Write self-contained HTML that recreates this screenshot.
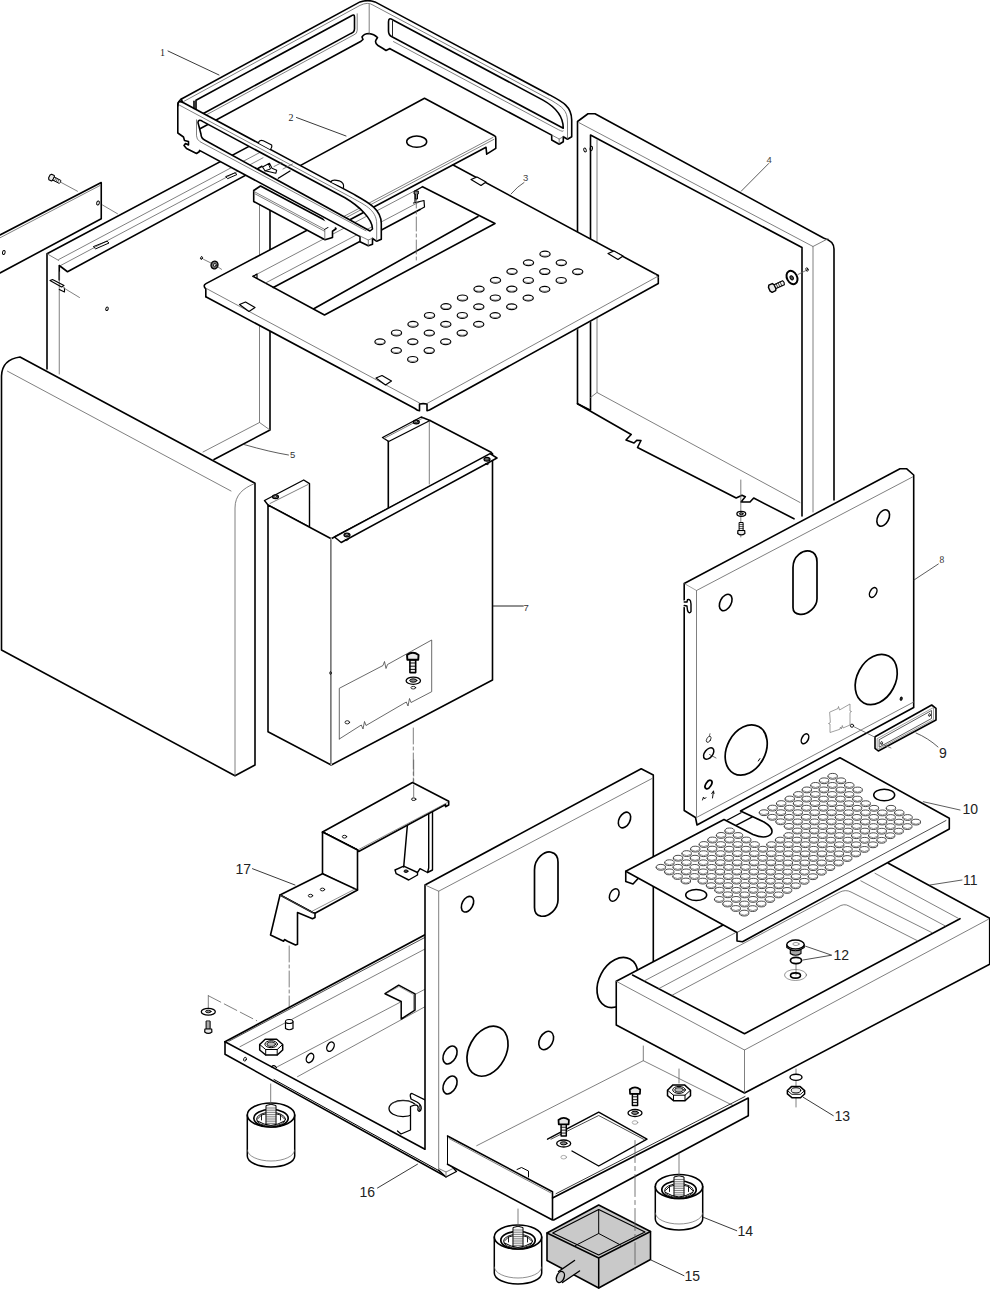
<!DOCTYPE html>
<html><head><meta charset="utf-8"><title>Exploded view</title>
<style>
html,body{margin:0;padding:0;background:#fff;}
body{width:990px;height:1304px;overflow:hidden;}
svg{display:block;}
path,ellipse{stroke-linejoin:round;stroke-linecap:round;}
</style></head><body>
<svg width="990" height="1304" viewBox="0 0 990 1304">
<rect x="0" y="0" width="990" height="1304" fill="#fff"/>
<path d="M 590,410 L 577.5,403.75 L 577.5,121.5 L 588,113.75 L 595,113.75 L 823.5,238 Q 834,241 834,249 L 834,500" fill="none" stroke="#000" stroke-width="1.6" />
<path d="M 578.7,122.5 L 813,246.5 L 813,512 M 813,246.5 L 828,238.7" fill="none" stroke="#606060" stroke-width="0.8" />
<path d="M 590.5,410 L 590.5,135 L 802,247.5 L 802,516" fill="none" stroke="#000" stroke-width="1.6" />
<path d="M 597,140 L 597,392.5 L 800,502.5 M 597,392.5 L 590.5,397.5" fill="none" stroke="#606060" stroke-width="0.8" />
<path d="M 577.5,403.75 L 631.2,434.5 L 626,440 L 634,443 L 637,440.2 L 641,440.5 L 637.5,447.5 L 736.2,498 L 742,495.3 L 745.3,496.8 L 741,502 L 750,502 L 753.7,498 L 794,518.8" fill="none" stroke="#000" stroke-width="1.6" />
<ellipse cx="585.0" cy="150.0" rx="1.2" ry="2.0" transform="rotate(-20 585.0 150.0)" fill="none" stroke="#000" stroke-width="1.0"/>
<ellipse cx="591.3" cy="148.5" rx="1.2" ry="2.2" transform="rotate(10 591.3 148.5)" fill="none" stroke="#000" stroke-width="1.0"/>
<g transform="translate(771.5 288.3) rotate(-25) scale(1.1)">
<path d="M -1,-3.6 L 2.5,-3.6 L 3.6,-1.8 L 3.6,1.8 L 2.5,3.6 L -1,3.6 L -2.2,1.8 L -2.2,-1.8 Z" fill="#e8e8e8" stroke="#000" stroke-width="1.3"/>
<path d="M 3.6,-2 L 12,-2 L 12.6,0 L 12,2 L 3.6,2 Z" fill="#f2f2f2" stroke="#000" stroke-width="1.0"/>
<path d="M 5.5,-2 L 5.5,2 M 7.5,-2 L 7.5,2 M 9.5,-2 L 9.5,2" stroke="#000" stroke-width="0.6" fill="none"/>
</g>
<ellipse cx="792.0" cy="277.5" rx="5.0" ry="7.0" transform="rotate(-28 792.0 277.5)" fill="#fff" stroke="#000" stroke-width="2.0"/>
<ellipse cx="791.7" cy="277.8" rx="1.5" ry="2.2" transform="rotate(-28 791.7 277.8)" fill="#555" stroke="#000" stroke-width="1.0"/>
<ellipse cx="807.0" cy="269.5" rx="1.0" ry="1.8" transform="rotate(-15 807.0 269.5)" fill="none" stroke="#000" stroke-width="0.9"/>
<path d="M 798,274.5 L 806,270.5" fill="none" stroke="#606060" stroke-width="0.8" />
<path d="M 740.8,480 L 740.8,537" fill="none" stroke="#606060" stroke-width="0.8" />
<ellipse cx="741.3" cy="513.8" rx="4.4" ry="2.5" transform="rotate(0 741.3 513.8)" fill="#fff" stroke="#000" stroke-width="1.3"/>
<ellipse cx="741.3" cy="513.8" rx="1.8" ry="1.1" transform="rotate(0 741.3 513.8)" fill="#888" stroke="#000" stroke-width="1.0"/>
<g transform="translate(741.3 533.5) scale(1.0 1.0)">
<path d="M -1.8,-11 L 1.8,-11 L 1.8,-3 L -1.8,-3 Z" fill="#f2f2f2" stroke="#000" stroke-width="1.0"/>
<path d="M -1.8,-9 L 1.8,-9 M -1.8,-7 L 1.8,-7 M -1.8,-5 L 1.8,-5" stroke="#000" stroke-width="0.6" fill="none"/>
<path d="M -3.4,-3 L 3.4,-3 L 3.6,0 Q 0,2.8 -3.6,0 Z" fill="#e8e8e8" stroke="#000" stroke-width="1.2"/>
</g>
<path d="M 47,369 L 47,253.75 L 256,142.6" fill="none" stroke="#000" stroke-width="1.6" />
<path d="M 270,205 L 270,430 L 214,459.5" fill="none" stroke="#000" stroke-width="1.6" />
<path d="M 58.75,259.5 L 263,150.8" fill="none" stroke="#606060" stroke-width="0.8" />
<path d="M 61,265.3 L 263,157.8" fill="none" stroke="#606060" stroke-width="0.8" />
<path d="M 59.25,265.5 L 59.25,280 M 59.25,265.5 L 67.5,271.75 L 262,166.3" fill="none" stroke="#000" stroke-width="1.6" />
<path d="M 47,253.75 L 58.75,260.5" fill="none" stroke="#606060" stroke-width="0.8" />
<path d="M 59.25,272 L 59.25,374" fill="none" stroke="#606060" stroke-width="0.8" />
<path d="M 259.5,205 L 259.5,422.5 L 203,452" fill="none" stroke="#606060" stroke-width="0.8" />
<path d="M 259.5,422.5 L 270,430" fill="none" stroke="#606060" stroke-width="0.8" />
<path d="M 50,280.5 L 52.5,279.5 L 64,285.5 L 61.5,287 Z M 59.25,289.5 L 64.5,292 L 64.5,288" fill="none" stroke="#000" stroke-width="1.1" />
<path d="M 63,287.5 L 79.5,297.5" fill="none" stroke="#606060" stroke-width="0.8" />
<path d="M 93.7,246.5 L 107,241.2 L 109,243 L 96,248.7 Z" fill="none" stroke="#000" stroke-width="1.0" />
<path d="M 226,176.5 L 235,172.8 L 237,174.5 L 228,178.5 Z" fill="none" stroke="#000" stroke-width="1.0" />
<ellipse cx="107.0" cy="308.8" rx="1.2" ry="1.8" transform="rotate(20 107.0 308.8)" fill="none" stroke="#000" stroke-width="1.0"/>
<path d="M 0,235 L 101.25,182.5 L 101.25,218.75 L 0,273" fill="#fff" stroke="#000" stroke-width="1.6" />
<path d="M 0,237.8 L 100,185.5" fill="none" stroke="#606060" stroke-width="0.8" />
<ellipse cx="98.0" cy="203.0" rx="1.3" ry="2.0" transform="rotate(15 98.0 203.0)" fill="none" stroke="#000" stroke-width="1.0"/>
<ellipse cx="3.8" cy="252.5" rx="1.3" ry="2.0" transform="rotate(15 3.8 252.5)" fill="none" stroke="#000" stroke-width="1.0"/>
<path d="M 61.25,182.5 L 77.5,191.25 M 102.5,205 L 117.5,213.75" fill="none" stroke="#606060" stroke-width="0.8" />
<g transform="translate(51.0 177.3) rotate(27) scale(0.85)">
<path d="M -1,-3.6 L 2.5,-3.6 L 3.6,-1.8 L 3.6,1.8 L 2.5,3.6 L -1,3.6 L -2.2,1.8 L -2.2,-1.8 Z" fill="#e8e8e8" stroke="#000" stroke-width="1.3"/>
<path d="M 3.6,-2 L 12,-2 L 12.6,0 L 12,2 L 3.6,2 Z" fill="#f2f2f2" stroke="#000" stroke-width="1.0"/>
<path d="M 5.5,-2 L 5.5,2 M 7.5,-2 L 7.5,2 M 9.5,-2 L 9.5,2" stroke="#000" stroke-width="0.6" fill="none"/>
</g>
<path d="M 204.3,284.5 L 442.0,159.0 L 658.3,275.5 L 658.3,275.5 L 658.3,284 L 430,412 L 419,412 L 205.8,296.7 Z" fill="#fff" stroke="none" stroke-width="0" />
<path d="M 205.8,296.7 L 205.8,289 Q 202.5,285.5 206,283.6 L 442,159 L 658.3,275.5" fill="none" stroke="#000" stroke-width="1.6" />
<path d="M 206,288.3 L 419.5,403" fill="none" stroke="#606060" stroke-width="0.8" />
<path d="M 205.8,296.7 L 414.5,408.3 L 417.5,410.2 L 419.5,410.7 L 419.5,404 Q 423,403.3 427,404 L 427,410.7 L 429.5,410 L 658.3,283.5 L 658.3,275.5" fill="none" stroke="#000" stroke-width="1.6" />
<path d="M 427,403.5 L 657.5,276.5" fill="none" stroke="#606060" stroke-width="0.8" />
<path d="M 655,274 L 658.3,277.5" fill="none" stroke="#606060" stroke-width="0.8" />
<path d="M 253.0,276.3 L 324.5,315.0 L 495.0,223.5 L 422.5,186.7" fill="none" stroke="#000" stroke-width="1.6" />
<path d="M 253.0,276.3 L 422.5,186.7" fill="none" stroke="#606060" stroke-width="0.8" />
<path d="M 265.5,283 L 420,201.5" fill="none" stroke="#606060" stroke-width="0.8" />
<path d="M 273.3,287.5 L 420,209.5" fill="none" stroke="#000" stroke-width="1.6" />
<path d="M 313.8,308.8 L 478,216.5" fill="none" stroke="#000" stroke-width="1.6" />
<path d="M 253,276.3 L 257,274 L 257,278.5" fill="none" stroke="#000" stroke-width="1.2" />
<path d="M 422.5,186.7 L 415,191 L 415,201.5 M 413.5,203 L 424,200.5 L 424.5,207 L 420,209.5" fill="none" stroke="#000" stroke-width="1.2" />
<path d="M 416.3,194 L 416.3,262" fill="none" stroke="#606060" stroke-width="0.8" stroke-dasharray="14 3 3 3"/>
<path d="M 414.5,191 L 418.3,191 L 418.3,194 L 417.5,194 L 417.5,199 L 415.3,199 L 415.3,194 L 414.5,194 Z" fill="#888" stroke="#000" stroke-width="1.0" />
<path d="M 239.5,304.5 l 6,-2.5 l 9.5,5.5 l -6,4 Z" fill="#fff" stroke="#000" stroke-width="1.2" />
<path d="M 376.0,378.0 l 6,-2.5 l 9.5,5.5 l -6,4 Z" fill="#fff" stroke="#000" stroke-width="1.2" />
<path d="M 471,179.5 l 6,-2.5 l 9,5 l -5,3.5 Z" fill="#fff" stroke="#000" stroke-width="1.2" />
<path d="M 608,253.5 l 6,-2.5 l 9,5 l -5,3.5 Z" fill="#fff" stroke="#000" stroke-width="1.2" />
<ellipse cx="545.0" cy="254.0" rx="5.1" ry="2.9" transform="rotate(0 545.0 254.0)" fill="#fff" stroke="#000" stroke-width="1.2"/>
<path d="M 540.5,254.6 q 4.5,3.2 9,0" fill="none" stroke="#606060" stroke-width="0.6" />
<ellipse cx="561.3" cy="262.8" rx="5.1" ry="2.9" transform="rotate(0 561.3 262.8)" fill="#fff" stroke="#000" stroke-width="1.2"/>
<path d="M 556.8,263.4 q 4.5,3.2 9,0" fill="none" stroke="#606060" stroke-width="0.6" />
<ellipse cx="577.7" cy="271.7" rx="5.1" ry="2.9" transform="rotate(0 577.7 271.7)" fill="#fff" stroke="#000" stroke-width="1.2"/>
<path d="M 573.2,272.3 q 4.5,3.2 9,0" fill="none" stroke="#606060" stroke-width="0.6" />
<ellipse cx="528.5" cy="262.8" rx="5.1" ry="2.9" transform="rotate(0 528.5 262.8)" fill="#fff" stroke="#000" stroke-width="1.2"/>
<path d="M 524.0,263.4 q 4.5,3.2 9,0" fill="none" stroke="#606060" stroke-width="0.6" />
<ellipse cx="544.8" cy="271.6" rx="5.1" ry="2.9" transform="rotate(0 544.8 271.6)" fill="#fff" stroke="#000" stroke-width="1.2"/>
<path d="M 540.3,272.2 q 4.5,3.2 9,0" fill="none" stroke="#606060" stroke-width="0.6" />
<ellipse cx="561.2" cy="280.4" rx="5.1" ry="2.9" transform="rotate(0 561.2 280.4)" fill="#fff" stroke="#000" stroke-width="1.2"/>
<path d="M 556.7,281.0 q 4.5,3.2 9,0" fill="none" stroke="#606060" stroke-width="0.6" />
<ellipse cx="512.0" cy="271.5" rx="5.1" ry="2.9" transform="rotate(0 512.0 271.5)" fill="#fff" stroke="#000" stroke-width="1.2"/>
<path d="M 507.5,272.1 q 4.5,3.2 9,0" fill="none" stroke="#606060" stroke-width="0.6" />
<ellipse cx="528.3" cy="280.4" rx="5.1" ry="2.9" transform="rotate(0 528.3 280.4)" fill="#fff" stroke="#000" stroke-width="1.2"/>
<path d="M 523.8,281.0 q 4.5,3.2 9,0" fill="none" stroke="#606060" stroke-width="0.6" />
<ellipse cx="544.7" cy="289.2" rx="5.1" ry="2.9" transform="rotate(0 544.7 289.2)" fill="#fff" stroke="#000" stroke-width="1.2"/>
<path d="M 540.2,289.8 q 4.5,3.2 9,0" fill="none" stroke="#606060" stroke-width="0.6" />
<ellipse cx="495.5" cy="280.3" rx="5.1" ry="2.9" transform="rotate(0 495.5 280.3)" fill="#fff" stroke="#000" stroke-width="1.2"/>
<path d="M 491.0,280.9 q 4.5,3.2 9,0" fill="none" stroke="#606060" stroke-width="0.6" />
<ellipse cx="511.8" cy="289.1" rx="5.1" ry="2.9" transform="rotate(0 511.8 289.1)" fill="#fff" stroke="#000" stroke-width="1.2"/>
<path d="M 507.3,289.7 q 4.5,3.2 9,0" fill="none" stroke="#606060" stroke-width="0.6" />
<ellipse cx="528.2" cy="298.0" rx="5.1" ry="2.9" transform="rotate(0 528.2 298.0)" fill="#fff" stroke="#000" stroke-width="1.2"/>
<path d="M 523.7,298.6 q 4.5,3.2 9,0" fill="none" stroke="#606060" stroke-width="0.6" />
<ellipse cx="479.0" cy="289.1" rx="5.1" ry="2.9" transform="rotate(0 479.0 289.1)" fill="#fff" stroke="#000" stroke-width="1.2"/>
<path d="M 474.5,289.7 q 4.5,3.2 9,0" fill="none" stroke="#606060" stroke-width="0.6" />
<ellipse cx="495.3" cy="297.9" rx="5.1" ry="2.9" transform="rotate(0 495.3 297.9)" fill="#fff" stroke="#000" stroke-width="1.2"/>
<path d="M 490.8,298.5 q 4.5,3.2 9,0" fill="none" stroke="#606060" stroke-width="0.6" />
<ellipse cx="511.7" cy="306.7" rx="5.1" ry="2.9" transform="rotate(0 511.7 306.7)" fill="#fff" stroke="#000" stroke-width="1.2"/>
<path d="M 507.2,307.3 q 4.5,3.2 9,0" fill="none" stroke="#606060" stroke-width="0.6" />
<ellipse cx="462.5" cy="297.9" rx="5.1" ry="2.9" transform="rotate(0 462.5 297.9)" fill="#fff" stroke="#000" stroke-width="1.2"/>
<path d="M 458.0,298.5 q 4.5,3.2 9,0" fill="none" stroke="#606060" stroke-width="0.6" />
<ellipse cx="478.8" cy="306.7" rx="5.1" ry="2.9" transform="rotate(0 478.8 306.7)" fill="#fff" stroke="#000" stroke-width="1.2"/>
<path d="M 474.3,307.3 q 4.5,3.2 9,0" fill="none" stroke="#606060" stroke-width="0.6" />
<ellipse cx="495.2" cy="315.5" rx="5.1" ry="2.9" transform="rotate(0 495.2 315.5)" fill="#fff" stroke="#000" stroke-width="1.2"/>
<path d="M 490.7,316.1 q 4.5,3.2 9,0" fill="none" stroke="#606060" stroke-width="0.6" />
<ellipse cx="446.0" cy="306.6" rx="5.1" ry="2.9" transform="rotate(0 446.0 306.6)" fill="#fff" stroke="#000" stroke-width="1.2"/>
<path d="M 441.5,307.2 q 4.5,3.2 9,0" fill="none" stroke="#606060" stroke-width="0.6" />
<ellipse cx="462.3" cy="315.4" rx="5.1" ry="2.9" transform="rotate(0 462.3 315.4)" fill="#fff" stroke="#000" stroke-width="1.2"/>
<path d="M 457.8,316.1 q 4.5,3.2 9,0" fill="none" stroke="#606060" stroke-width="0.6" />
<ellipse cx="478.7" cy="324.3" rx="5.1" ry="2.9" transform="rotate(0 478.7 324.3)" fill="#fff" stroke="#000" stroke-width="1.2"/>
<path d="M 474.2,324.9 q 4.5,3.2 9,0" fill="none" stroke="#606060" stroke-width="0.6" />
<ellipse cx="429.5" cy="315.4" rx="5.1" ry="2.9" transform="rotate(0 429.5 315.4)" fill="#fff" stroke="#000" stroke-width="1.2"/>
<path d="M 425.0,316.0 q 4.5,3.2 9,0" fill="none" stroke="#606060" stroke-width="0.6" />
<ellipse cx="445.8" cy="324.2" rx="5.1" ry="2.9" transform="rotate(0 445.8 324.2)" fill="#fff" stroke="#000" stroke-width="1.2"/>
<path d="M 441.3,324.8 q 4.5,3.2 9,0" fill="none" stroke="#606060" stroke-width="0.6" />
<ellipse cx="462.2" cy="333.1" rx="5.1" ry="2.9" transform="rotate(0 462.2 333.1)" fill="#fff" stroke="#000" stroke-width="1.2"/>
<path d="M 457.7,333.7 q 4.5,3.2 9,0" fill="none" stroke="#606060" stroke-width="0.6" />
<ellipse cx="413.0" cy="324.2" rx="5.1" ry="2.9" transform="rotate(0 413.0 324.2)" fill="#fff" stroke="#000" stroke-width="1.2"/>
<path d="M 408.5,324.8 q 4.5,3.2 9,0" fill="none" stroke="#606060" stroke-width="0.6" />
<ellipse cx="429.3" cy="333.0" rx="5.1" ry="2.9" transform="rotate(0 429.3 333.0)" fill="#fff" stroke="#000" stroke-width="1.2"/>
<path d="M 424.8,333.6 q 4.5,3.2 9,0" fill="none" stroke="#606060" stroke-width="0.6" />
<ellipse cx="445.7" cy="341.8" rx="5.1" ry="2.9" transform="rotate(0 445.7 341.8)" fill="#fff" stroke="#000" stroke-width="1.2"/>
<path d="M 441.2,342.4 q 4.5,3.2 9,0" fill="none" stroke="#606060" stroke-width="0.6" />
<ellipse cx="396.5" cy="332.9" rx="5.1" ry="2.9" transform="rotate(0 396.5 332.9)" fill="#fff" stroke="#000" stroke-width="1.2"/>
<path d="M 392.0,333.5 q 4.5,3.2 9,0" fill="none" stroke="#606060" stroke-width="0.6" />
<ellipse cx="412.8" cy="341.8" rx="5.1" ry="2.9" transform="rotate(0 412.8 341.8)" fill="#fff" stroke="#000" stroke-width="1.2"/>
<path d="M 408.3,342.4 q 4.5,3.2 9,0" fill="none" stroke="#606060" stroke-width="0.6" />
<ellipse cx="429.2" cy="350.6" rx="5.1" ry="2.9" transform="rotate(0 429.2 350.6)" fill="#fff" stroke="#000" stroke-width="1.2"/>
<path d="M 424.7,351.2 q 4.5,3.2 9,0" fill="none" stroke="#606060" stroke-width="0.6" />
<ellipse cx="380.0" cy="341.7" rx="5.1" ry="2.9" transform="rotate(0 380.0 341.7)" fill="#fff" stroke="#000" stroke-width="1.2"/>
<path d="M 375.5,342.3 q 4.5,3.2 9,0" fill="none" stroke="#606060" stroke-width="0.6" />
<ellipse cx="396.3" cy="350.5" rx="5.1" ry="2.9" transform="rotate(0 396.3 350.5)" fill="#fff" stroke="#000" stroke-width="1.2"/>
<path d="M 391.8,351.1 q 4.5,3.2 9,0" fill="none" stroke="#606060" stroke-width="0.6" />
<ellipse cx="412.7" cy="359.4" rx="5.1" ry="2.9" transform="rotate(0 412.7 359.4)" fill="#fff" stroke="#000" stroke-width="1.2"/>
<path d="M 408.2,360.0 q 4.5,3.2 9,0" fill="none" stroke="#606060" stroke-width="0.6" />
<path d="M 253.7,190.5 L 260.5,186 L 333,224.5 L 336,228.75 L 332.5,231.25 L 332.5,237.5 L 325,239.7 L 253.7,201.5 Z" fill="#fff" stroke="#000" stroke-width="1.6" />
<path d="M 254,191.5 L 324.5,229.3 M 255,193.8 L 324.5,231.2" fill="none" stroke="#606060" stroke-width="0.8" />
<path d="M 324.5,229.5 L 333,224.5" fill="none" stroke="#000" stroke-width="1.0" />
<path d="M 324.8,230 L 324.8,239.5" fill="none" stroke="#606060" stroke-width="0.8" />
<path d="M 424.5,98.3 L 494.5,135.8 L 495.8,137.5 L 495.8,148.3 L 486.7,154.2 L 485,147 L 330,230.3 L 296,167.9 Z" fill="#fff" stroke="none" stroke-width="0" />
<path d="M 296,167.9 L 424.5,98.3 L 494.5,135.8 Q 496,136.5 495.8,138.5 L 495.8,148.3 L 486.7,154.2 L 486,147.2 L 340,225.0" fill="none" stroke="#000" stroke-width="1.6" />
<path d="M 493,137.4 L 340,218.5" fill="none" stroke="#606060" stroke-width="0.8" />
<path d="M 494,139.3 L 340,220.9" fill="none" stroke="#606060" stroke-width="0.8" />
<ellipse cx="416.7" cy="141.7" rx="10.0" ry="5.6" transform="rotate(0 416.7 141.7)" fill="none" stroke="#000" stroke-width="1.5"/>
<path d="M 181,99.2 L 360,1.9 Q 368,-0.6 375,1.9 L 548.3,94.2 C 562,101.5 571.7,106 571.7,120 L 571.7,136.7 L 567.5,139.2 L 563.3,136.7 L 563.3,141.7 L 559.2,144.2 L 551.7,140 L 551.7,135.1 L 390,48.7 L 390,48.5 L 386,50.5 L 383,48.5 L 378,45.5 Q 374.5,43 376,40 L 377.5,37.5 Q 374,34 369,33.5 Q 364,33.5 362,37 L 363,39.5 L 361,41.2 L 200,128.8 L 190,115 Z M 196,100.3 L 351.5,15.7 Q 354.5,13.6 354.5,17.3 L 354.5,28.8 Q 354.5,32.3 351,33.4 L 196,117.5 Z M 388.5,21.9 Q 388.5,17.1 392.5,19.7 L 543,100.1 C 555,106.8 563.3,115.3 563.3,128.3 L 392.0,36.8 Q 388.5,34.9 388.5,30.9 Z" fill="#fff" stroke="#000" stroke-width="1.6" fill-rule="evenodd"/>
<path d="M 184,101.3 L 360,5.4 Q 368,1.5 373,5.1 L 552,100.7 C 562,107.1 567.5,110 567.5,122 L 567.5,139" fill="none" stroke="#606060" stroke-width="0.8" />
<path d="M 357.2,13.8 L 357.2,30.3 Q 357.2,33.8 354,34.8 L 207,114.5" fill="none" stroke="#606060" stroke-width="0.8" />
<path d="M 369.2,4.5 L 369.2,33.5" fill="none" stroke="#606060" stroke-width="0.8" />
<path d="M 392.5,21.0 L 392.5,36.0" fill="none" stroke="#222" stroke-width="1.0" />
<path d="M 393.5,41.6 L 556,128.4 C 560,130.5 563.3,132.3 563.3,131" fill="none" stroke="#606060" stroke-width="0.8" />
<path d="M 559.2,144.2 L 559.2,139 L 551.7,135 M 559.2,139 L 563.3,136.7" fill="none" stroke="#606060" stroke-width="0.8" />
<path d="M 177.8,133 L 177.8,104 Q 177.8,100 183.5,102.8 L 351.7,193.1 C 366,201.3 381.3,208 381.3,223.3 L 381.3,239.2 L 376.7,241.3 L 372.5,238.3 L 372.5,244.2 L 368.3,245.8 L 360,241.7 L 360,236.6 L 199.5,150.4 L 199.5,151.5 L 196.5,153.5 L 186.5,148.5 L 184,145.5 L 185.5,143.5 L 188.5,145 L 188.5,141.5 L 184.5,140.5 L 183.5,137 Z M 198.0,122.6 Q 198.0,118.6 203.0,121.6 L 345,197.8 C 358,205.5 372.5,218.3 372.5,229 L 370,231 L 205.0,140.3 Q 201.0,138.2 201.0,134.2 Z" fill="#fff" stroke="#000" stroke-width="1.6" fill-rule="evenodd"/>
<path d="M 179,104.9 L 350,196.7 C 363,204.2 376.7,209 376.7,224 L 376.7,241" fill="none" stroke="#606060" stroke-width="0.8" />
<path d="M 196.5,119.8 L 196.5,135.8 Q 196.5,139.3 200,141.7 L 366,230.8" fill="none" stroke="#606060" stroke-width="0.8" />
<path d="M 368.3,245.8 L 368.3,240 L 360,236 M 368.3,240 L 372.5,238.3" fill="none" stroke="#606060" stroke-width="0.8" />
<path d="M 194,101.4 L 194,108.4" fill="none" stroke="#000" stroke-width="1.6" />
<path d="M 177.8,106 Q 177.8,100.8 182,98.6" fill="none" stroke="#000" stroke-width="1.6" />
<path d="M 258.5,143 Q 259,139.5 263.3,140.8 L 271.7,145 Q 272.5,147 270.5,149.5" fill="#fff" stroke="#000" stroke-width="1.2" />
<path d="M 331,182 Q 332,179 339.2,180.8 Q 344.5,183 343.5,187.5" fill="#fff" stroke="#000" stroke-width="1.2" />
<path d="M 262.5,167 L 269.5,163.3 L 272,168.3 L 276.7,170.2 L 275.8,173.3 L 265,170.8 Z" fill="#fff" stroke="#000" stroke-width="1.1" />
<path d="M 268.5,164 L 270.5,169 L 265,170.8" fill="none" stroke="#000" stroke-width="1.0" />
<path d="M 278.3,178.3 L 290,171" fill="none" stroke="#000" stroke-width="1.3" />
<path d="M 283,169 L 292.5,164 M 274,166.5 L 282,162.5" fill="none" stroke="#606060" stroke-width="0.8" />
<g transform="translate(214.5 265.0) scale(1.0)">
<ellipse cx="0" cy="0" rx="3.4" ry="3.8" fill="#777" stroke="#000" stroke-width="1.4" transform="rotate(20)"/>
<ellipse cx="0.3" cy="0" rx="1.3" ry="1.7" fill="#ddd" stroke="#000" stroke-width="0.7" transform="rotate(20)"/>
</g>
<ellipse cx="201.5" cy="258.0" rx="0.9" ry="1.5" transform="rotate(20 201.5 258.0)" fill="none" stroke="#000" stroke-width="0.9"/>
<path d="M 203.5,259.3 L 211,263 M 218,267 L 221.5,269.3" fill="none" stroke="#606060" stroke-width="0.8" />
<path d="M 382.5,437.5 L 421.2,417 L 430,420.5 L 388.7,441.5 Z" fill="#fff" stroke="#000" stroke-width="1.4" />
<path d="M 384,438.5 L 423,418" fill="none" stroke="#606060" stroke-width="0.8" />
<path d="M 388.3,441.5 L 388.3,508" fill="none" stroke="#000" stroke-width="1.6" />
<path d="M 429.3,421 L 429.3,484" fill="none" stroke="#606060" stroke-width="0.8" />
<path d="M 430,420.5 L 491.5,452.5" fill="none" stroke="#000" stroke-width="1.6" />
<ellipse cx="416.3" cy="422.0" rx="3.0" ry="1.9" transform="rotate(0 416.3 422.0)" fill="#777" stroke="#000" stroke-width="1.2"/>
<ellipse cx="416.3" cy="421.7" rx="1.5" ry="0.9" transform="rotate(0 416.3 421.7)" fill="#ccc" stroke="#000" stroke-width="0.6"/>
<path d="M 264.5,500.5 L 303.7,480 L 309.5,483.7 L 309.5,527 L 268,505 Z" fill="#fff" stroke="#000" stroke-width="1.4" />
<path d="M 270,503.5 L 308,484.5" fill="none" stroke="#606060" stroke-width="0.8" />
<ellipse cx="275.5" cy="496.7" rx="3.0" ry="1.9" transform="rotate(0 275.5 496.7)" fill="#777" stroke="#000" stroke-width="1.2"/>
<ellipse cx="275.5" cy="496.4" rx="1.5" ry="0.9" transform="rotate(0 275.5 496.4)" fill="#ccc" stroke="#000" stroke-width="0.6"/>
<path d="M 268,505 L 331.2,538.7 L 331.2,765 L 268,731.7 Z" fill="#fff" stroke="#000" stroke-width="1.6" />
<path d="M 331.2,538.7 L 492.5,453.5 L 492.5,680 L 331.2,765 Z" fill="#fff" stroke="#000" stroke-width="1.6" />
<path d="M 331.2,538.7 L 331.2,765" fill="none" stroke="#fff" stroke-width="1.2" />
<path d="M 331.2,540 L 331.2,764" fill="none" stroke="#777" stroke-width="0.7" />
<path d="M 334.5,537 L 490,453.7 L 497,458 L 341.2,542.5 Z" fill="#fff" stroke="#000" stroke-width="1.5" />
<ellipse cx="347.0" cy="535.0" rx="3.0" ry="1.9" transform="rotate(0 347.0 535.0)" fill="#777" stroke="#000" stroke-width="1.2"/>
<ellipse cx="347.0" cy="534.7" rx="1.5" ry="0.9" transform="rotate(0 347.0 534.7)" fill="#ccc" stroke="#000" stroke-width="0.6"/>
<ellipse cx="487.0" cy="459.3" rx="3.0" ry="1.9" transform="rotate(0 487.0 459.3)" fill="#777" stroke="#000" stroke-width="1.2"/>
<ellipse cx="487.0" cy="459.0" rx="1.5" ry="0.9" transform="rotate(0 487.0 459.0)" fill="#ccc" stroke="#000" stroke-width="0.6"/>
<path d="M 345,539.5 q 1.5,2.5 3.5,0 M 485.5,463.7 q 1.5,2.5 3.5,0" fill="none" stroke="#000" stroke-width="1.0" />
<path d="M 339.3,739 L 339.3,688.3 L 383,665.5 l 1.5,-4 l 1.5,7 l 1.5,-4 L 431.7,640 L 431.7,691.7 L 411,702.5 l -1.5,-4 l -1.5,7.5 l -1.7,-4 L 366,725.5 l -1.5,-4 l -1.5,7.5 l -1.7,-4 L 339.3,739" fill="none" stroke="#444" stroke-width="0.8" />
<ellipse cx="347.3" cy="722.3" rx="2.3" ry="1.6" transform="rotate(0 347.3 722.3)" fill="none" stroke="#000" stroke-width="0.8"/>
<ellipse cx="330.5" cy="673.0" rx="0.8" ry="1.5" transform="rotate(0 330.5 673.0)" fill="none" stroke="#000" stroke-width="0.7"/>
<g transform="translate(412.8 655.0) scale(1.6 -1.6)">
<path d="M -1.8,-11 L 1.8,-11 L 1.8,-3 L -1.8,-3 Z" fill="#f2f2f2" stroke="#000" stroke-width="1.0"/>
<path d="M -1.8,-9 L 1.8,-9 M -1.8,-7 L 1.8,-7 M -1.8,-5 L 1.8,-5" stroke="#000" stroke-width="0.6" fill="none"/>
<path d="M -3.4,-3 L 3.4,-3 L 3.6,0 Q 0,2.8 -3.6,0 Z" fill="#e8e8e8" stroke="#000" stroke-width="1.2"/>
</g>
<ellipse cx="413.3" cy="680.7" rx="7.2" ry="3.6" transform="rotate(0 413.3 680.7)" fill="#fff" stroke="#000" stroke-width="1.3"/>
<ellipse cx="413.3" cy="680.5" rx="3.6" ry="1.7" transform="rotate(0 413.3 680.5)" fill="#888" stroke="#000" stroke-width="1.0"/>
<ellipse cx="413.3" cy="687.7" rx="2.4" ry="1.3" transform="rotate(0 413.3 687.7)" fill="none" stroke="#000" stroke-width="0.8"/>
<path d="M 413.3,728 L 413.3,797" fill="none" stroke="#606060" stroke-width="0.8" stroke-dasharray="16 3 3 3"/>
<path d="M 493.3,606 L 523.3,606" fill="none" stroke="#222" stroke-width="1.0" />
<path d="M 1.5,650 L 1.5,376 Q 2,359.5 20,357 L 255,483.3 L 255,765 L 235,775.7 Z" fill="#fff" stroke="#000" stroke-width="1.6" />
<path d="M 7.5,371.2 L 231,491 M 235,775.7 L 235,508 C 235,495 243,488.5 253.5,484" fill="none" stroke="#606060" stroke-width="0.8" />
<path d="M 684.2,810.5 L 684.2,583.5 L 900,468.7 L 906.5,468.7 L 913.7,475 L 913.7,707.5 L 697,825 L 695.5,817.5 Z" fill="#fff" stroke="#000" stroke-width="1.6" />
<path d="M 696.5,816.5 L 696.5,590.5 L 912.5,477" fill="none" stroke="#606060" stroke-width="0.8" />
<path d="M 696.5,590.5 L 684.2,583.5" fill="none" stroke="#606060" stroke-width="0.6" />
<path d="M 913.7,702 L 696.5,817.5" fill="none" stroke="#606060" stroke-width="0.8" />
<path d="M 684.2,601.5 L 684.2,606" fill="none" stroke="#fff" stroke-width="2.4" />
<path d="M 684.2,602 L 687,602 L 687.5,599.7 Q 689.5,598.8 690.5,601 L 691,604 L 691,611.5 Q 690,613.5 688.5,612.3 Q 687.2,610.5 687.2,608 L 687,606 L 684.2,605.5" fill="#fff" stroke="#000" stroke-width="1.4" />
<ellipse cx="883.2" cy="518.0" rx="5.5" ry="8.8" transform="rotate(28 883.2 518.0)" fill="none" stroke="#000" stroke-width="1.6"/>
<ellipse cx="725.7" cy="602.5" rx="5.5" ry="8.8" transform="rotate(28 725.7 602.5)" fill="none" stroke="#000" stroke-width="1.6"/>
<ellipse cx="873.2" cy="592.5" rx="3.2" ry="5.3" transform="rotate(28 873.2 592.5)" fill="none" stroke="#000" stroke-width="1.5"/>
<ellipse cx="805.0" cy="738.8" rx="3.2" ry="5.3" transform="rotate(28 805.0 738.8)" fill="none" stroke="#000" stroke-width="1.5"/>
<ellipse cx="876.2" cy="679.5" rx="19.2" ry="26.5" transform="rotate(28 876.2 679.5)" fill="none" stroke="#000" stroke-width="1.7"/>
<ellipse cx="746.2" cy="750.0" rx="19.2" ry="26.5" transform="rotate(28 746.2 750.0)" fill="none" stroke="#000" stroke-width="1.7"/>
<path d="M 758.3,761 l 1.6,-2.4" fill="none" stroke="#000" stroke-width="1.0" />
<path d="M 793,607.5 L 793,567.5 C 793,556 803,549.5 810,551.2 C 815,552.5 817,556 817,562 L 817,598.7 C 817,607 808,615 800,614.3 C 795,613.8 793,611 793,607.5 Z" fill="none" stroke="#000" stroke-width="1.7" />
<ellipse cx="901.2" cy="698.7" rx="1.0" ry="1.6" transform="rotate(20 901.2 698.7)" fill="#333" stroke="#000" stroke-width="1.0"/>
<ellipse cx="852.0" cy="725.7" rx="1.6" ry="1.6" transform="rotate(0 852.0 725.7)" fill="none" stroke="#000" stroke-width="0.9"/>
<path d="M 830,712 L 838,708.5 l 0.5,-2 l 1,3.5 L 850,704 L 850,711 l 1.5,0.5 l -1.5,1 L 850,725 L 843,728 l -0.7,-2.5 l -1,3.5 l -0.8,-2 l -0.7,2.3 L 830,732.5 L 830,724 l -1.5,-0.5 l 1.5,-0.8 Z" fill="none" stroke="#777" stroke-width="0.7" />
<ellipse cx="708.7" cy="739.3" rx="1.9" ry="3.4" transform="rotate(30 708.7 739.3)" fill="none" stroke="#000" stroke-width="0.7"/>
<path d="M 709.5,735.5 l 0.5,-1.8" fill="none" stroke="#222" stroke-width="0.7" />
<ellipse cx="708.7" cy="753.5" rx="4.0" ry="6.6" transform="rotate(38 708.7 753.5)" fill="none" stroke="#000" stroke-width="1.5"/>
<path d="M 709.5,754.5 L 716,758" fill="none" stroke="#222" stroke-width="0.7" />
<ellipse cx="708.5" cy="784.5" rx="2.6" ry="4.8" transform="rotate(32 708.5 784.5)" fill="none" stroke="#000" stroke-width="1.8"/>
<path d="M 702.5,800 l 1,-3 l 1,2 l 1.5,-1.5 M 712.5,798 l 1,-7 m -1.8,2.5 l 1.8,-2.5 l 0.5,2.5" fill="none" stroke="#111" stroke-width="1.0" />
<path d="M 428.7,810 L 428.7,868 L 427.5,872.5 L 432.5,870 L 432.5,806" fill="#fff" stroke="#000" stroke-width="1.4" />
<path d="M 407.5,823.7 L 403.7,867" fill="none" stroke="#000" stroke-width="1.5" />
<path d="M 395,870 L 403.7,866.2 L 417.5,872.5 L 420,868.7 L 427.5,872.5 M 395,870 L 396.2,873.7 L 408.7,880 L 417.5,875 L 417.5,872.5" fill="none" stroke="#000" stroke-width="1.4" />
<ellipse cx="406.0" cy="871.2" rx="2.0" ry="1.3" transform="rotate(0 406.0 871.2)" fill="#444" stroke="#000" stroke-width="0.9"/>
<path d="M 322.5,832 L 412.5,782.5 L 448.7,801.2 L 448.7,805 L 445.5,806.7 L 445.5,804.5 L 358.7,851.5 L 357.5,850 Z" fill="#fff" stroke="#000" stroke-width="1.6" />
<path d="M 358.7,849.5 L 447.5,802.5" fill="none" stroke="#606060" stroke-width="0.7" />
<path d="M 322.5,832 L 357.5,850" fill="none" stroke="#000" stroke-width="1.6" />
<path d="M 322.5,832 L 322.5,873.7 L 355,890 L 357.5,890 L 357.5,850 Z" fill="#fff" stroke="#000" stroke-width="1.6" />
<path d="M 322.5,873.7 L 356,890.7" fill="none" stroke="#606060" stroke-width="0.7" />
<path d="M 280,895 L 322.5,873.7 L 357.5,890 L 314.5,913.5 L 312.5,912.5 Z" fill="#fff" stroke="#000" stroke-width="1.6" />
<path d="M 312.5,911 L 356,888.5" fill="none" stroke="#606060" stroke-width="0.7" />
<path d="M 280,895 L 270.5,935 L 283.7,941.2 L 284.5,939.5 L 287.5,941.2 L 295.5,945 L 297.5,944.2 L 297.5,912.5 L 312.5,918.7 L 315,917.5 L 315,913.2 L 312.5,912.5 Z" fill="#fff" stroke="#000" stroke-width="1.6" />
<path d="M 280,895 L 312.5,912.5" fill="none" stroke="#606060" stroke-width="0.7" />
<ellipse cx="344.5" cy="836.7" rx="2.2" ry="1.4" transform="rotate(0 344.5 836.7)" fill="none" stroke="#000" stroke-width="0.9"/>
<ellipse cx="322.5" cy="889.5" rx="2.2" ry="1.4" transform="rotate(0 322.5 889.5)" fill="none" stroke="#000" stroke-width="0.9"/>
<ellipse cx="310.5" cy="895.7" rx="2.2" ry="1.4" transform="rotate(0 310.5 895.7)" fill="none" stroke="#000" stroke-width="0.9"/>
<ellipse cx="413.7" cy="799.2" rx="2.2" ry="1.3" transform="rotate(0 413.7 799.2)" fill="none" stroke="#000" stroke-width="0.9"/>
<path d="M 413.7,760 L 413.7,797" fill="none" stroke="#606060" stroke-width="0.8" stroke-dasharray="16 3 3 3"/>
<path d="M 289.2,946 L 289.2,1018" fill="none" stroke="#606060" stroke-width="0.8" stroke-dasharray="16 3 3 3"/>
<path d="M 252.5,868.7 L 295,885" fill="none" stroke="#222" stroke-width="0.9" />
<path d="M 225,1041.75 L 425,934.8 L 425,1149.25 L 446.2,1176.7 L 225,1054.25 Z" fill="#fff" stroke="none" stroke-width="0" />
<path d="M 225,1041.75 L 425,934.8" fill="none" stroke="#000" stroke-width="1.7" />
<path d="M 229,1041.2 L 425,937.4" fill="none" stroke="#222" stroke-width="0.8" />
<path d="M 240,1046.7 L 425,949" fill="none" stroke="#606060" stroke-width="0.8" />
<path d="M 277.5,1066.7 L 425,989.2" fill="none" stroke="#606060" stroke-width="0.8" />
<path d="M 297.5,1076.7 L 425,1006.7" fill="none" stroke="#606060" stroke-width="0.8" />
<path d="M 225,1041.75 L 225,1054.25 L 446.2,1176.7" fill="none" stroke="#000" stroke-width="1.6" />
<path d="M 225,1041.75 L 425,1149.25" fill="none" stroke="#000" stroke-width="1.6" />
<path d="M 274,1079.5 L 446.2,1174.7" fill="none" stroke="#000" stroke-width="1.0" />
<path d="M 271.5,1066.8 q 2.5,-2.8 5,0.8" fill="none" stroke="#000" stroke-width="1.2" />
<ellipse cx="245.0" cy="1059.2" rx="1.3" ry="2.0" transform="rotate(20 245.0 1059.2)" fill="none" stroke="#000" stroke-width="0.9"/>
<ellipse cx="310.0" cy="1058.0" rx="3.3" ry="5.0" transform="rotate(28 310.0 1058.0)" fill="none" stroke="#000" stroke-width="1.4"/>
<ellipse cx="330.5" cy="1046.7" rx="3.3" ry="5.0" transform="rotate(28 330.5 1046.7)" fill="none" stroke="#000" stroke-width="1.4"/>
<path d="M 385,993.7 L 398.7,985.2 L 415,993.9 L 415,1010.2 L 401.2,1019 L 401.2,1001.5 Z" fill="#fff" stroke="#000" stroke-width="1.5" />
<path d="M 387,993 L 399,986.5 L 413.5,994.5 L 413.5,1009.5" fill="none" stroke="#606060" stroke-width="0.6" />
<ellipse cx="403.0" cy="1108.5" rx="14.0" ry="8.2" transform="rotate(0 403.0 1108.5)" fill="none" stroke="#000" stroke-width="1.3"/>
<path d="M 391,1104 Q 400,1099 412,1101.5" fill="none" stroke="#606060" stroke-width="0.6" />
<path d="M 410.5,1104 L 426,1104 L 426,1143 L 410.5,1131 Z" fill="#fff" stroke="none" stroke-width="0" />
<path d="M 426,1100.3 L 412,1093.5 Q 410,1093.5 410.3,1096 L 411,1099 L 417,1102 Q 421.5,1104.5 421.2,1108.5 Q 420.5,1112 418.5,1111 Q 417.3,1110 418.2,1107.5 Q 418.3,1105 415,1104.8 L 410.5,1106.5 L 410.5,1130 L 401,1134 L 397.5,1131" fill="#fff" stroke="#000" stroke-width="1.3" />
<path d="M 419.5,1104.5 Q 420.5,1108 419.3,1110.5" fill="none" stroke="#000" stroke-width="0.8" />
<g transform="translate(271.2 1046.0) scale(1.0)">
<path d="M -11.5,-1.5 L -6,-6.8 L 5.5,-6.8 L 11.5,-1.5 L 11.5,4 L 6,9 L -5.5,9 L -11.5,4 Z" fill="#fff" stroke="#000" stroke-width="1.5"/>
<path d="M -11.5,-1.5 L -5.5,3.5 L 6,3.5 L 11.5,-1.5 M -5.5,3.5 L -5.5,9 M 6,3.5 L 6,9" fill="none" stroke="#000" stroke-width="1.0"/>
<ellipse cx="0" cy="-1.8" rx="6.3" ry="3.5" fill="#fff" stroke="#000" stroke-width="1.0"/>
<ellipse cx="0" cy="-1.8" rx="4.2" ry="2.2" fill="#bbb" stroke="#000" stroke-width="0.9"/>
</g>
<path d="M 285.5,1021.5 L 285.5,1028.5 Q 289.2,1031 293,1028.5 L 293,1021.5" fill="#fff" stroke="#000" stroke-width="1.2" />
<ellipse cx="289.2" cy="1021.5" rx="3.7" ry="2.0" transform="rotate(0 289.2 1021.5)" fill="#fff" stroke="#000" stroke-width="1.1"/>
<path d="M 425,1149.25 L 438.7,1156.6 L 438.5,1170 L 446,1177 L 456.5,1171.5 L 450,1164.5 L 440,1150 Z" fill="#fff" stroke="none" stroke-width="0" />
<path d="M 438.5,1170 L 446,1177 L 456.5,1171.5 L 450,1164.5" fill="none" stroke="#000" stroke-width="1.3" />
<path d="M 425,1149.25 L 425,885 L 641.2,768.7 L 653.3,775 L 653.3,1066 L 643.3,1060.7 L 476.7,1145.7 L 447.5,1160.5 L 438.7,1156.6 Z" fill="#fff" stroke="none" stroke-width="0" />
<path d="M 425,1149.25 L 425,885 L 641.2,768.7 L 653.3,775 L 653.3,1040" fill="none" stroke="#000" stroke-width="1.6" />
<path d="M 438.7,1168 L 438.7,891.2 L 652,778.5 M 438.7,891.2 L 425,885" fill="none" stroke="#606060" stroke-width="0.8" />
<path d="M 438.7,1168.5 L 446,1172 L 453,1168.5 M 446,1172 L 446,1176.5" fill="none" stroke="#606060" stroke-width="0.8" />
<ellipse cx="467.5" cy="904.2" rx="5.4" ry="8.4" transform="rotate(28 467.5 904.2)" fill="none" stroke="#000" stroke-width="1.6"/>
<ellipse cx="624.5" cy="820.0" rx="5.4" ry="8.4" transform="rotate(28 624.5 820.0)" fill="none" stroke="#000" stroke-width="1.6"/>
<ellipse cx="614.2" cy="895.0" rx="4.3" ry="6.6" transform="rotate(28 614.2 895.0)" fill="none" stroke="#000" stroke-width="1.5"/>
<ellipse cx="546.2" cy="1040.5" rx="6.6" ry="9.8" transform="rotate(28 546.2 1040.5)" fill="none" stroke="#000" stroke-width="1.6"/>
<ellipse cx="487.5" cy="1051.2" rx="18.5" ry="26.5" transform="rotate(28 487.5 1051.2)" fill="none" stroke="#000" stroke-width="1.7"/>
<ellipse cx="450.0" cy="1055.0" rx="6.2" ry="9.6" transform="rotate(28 450.0 1055.0)" fill="none" stroke="#000" stroke-width="1.6"/>
<ellipse cx="450.0" cy="1085.0" rx="6.2" ry="9.6" transform="rotate(28 450.0 1085.0)" fill="none" stroke="#000" stroke-width="1.6"/>
<ellipse cx="617.5" cy="982.5" rx="18.5" ry="26.5" transform="rotate(28 617.5 982.5)" fill="none" stroke="#000" stroke-width="1.7"/>
<path d="M 534.5,907.5 L 534.5,870 C 534.5,858 545,850.5 551.5,852.3 C 556.5,853.5 558,857 558,862 L 558,900 C 558,909 549,917 541,916.2 C 536.5,915.5 534.5,912 534.5,907.5 Z" fill="none" stroke="#000" stroke-width="1.7" />
<path d="M 447.5,1136 L 476.7,1145.7 L 643.3,1060.7 L 748.3,1098 L 748.3,1115.7 L 553.7,1220 L 447.5,1164.2 Z" fill="#fff" stroke="none" stroke-width="0" />
<path d="M 476.7,1145.7 L 643.3,1060.7 L 643.3,1046 M 643.3,1060.7 L 733,1105.5" fill="none" stroke="#606060" stroke-width="0.8" />
<path d="M 447.5,1136 L 552.5,1191.7 L 552.5,1220 L 447.5,1164.2 Z" fill="#fff" stroke="none" stroke-width="0" />
<path d="M 447.5,1136 L 552.5,1191.7 L 552.5,1220 L 447.5,1164.2" fill="none" stroke="#000" stroke-width="1.6" />
<path d="M 447.5,1136 L 447.5,1164.2" fill="none" stroke="#000" stroke-width="1.0" />
<path d="M 449,1138.5 L 551,1193" fill="none" stroke="#606060" stroke-width="0.8" />
<path d="M 552.5,1198 L 748.3,1098 L 748.3,1115.7 L 553.7,1220" fill="none" stroke="#000" stroke-width="1.6" />
<path d="M 556,1193.7 L 745,1096.5" fill="none" stroke="#222" stroke-width="0.9" />
<path d="M 517,1169.5 L 521.5,1167.5 L 528.5,1171 L 528.5,1177" fill="none" stroke="#000" stroke-width="1.0" />
<path d="M 547.5,1139.2 L 598.7,1112.2 L 647,1139.2 L 598.7,1166 L 572,1151" fill="none" stroke="#000" stroke-width="1.4" />
<path d="M 551,1139.2 L 598.7,1115.5 L 644,1139.5" fill="none" stroke="#222" stroke-width="0.8" />
<g transform="translate(563.7 1120.0) scale(1.45 -1.45)">
<path d="M -1.8,-11 L 1.8,-11 L 1.8,-3 L -1.8,-3 Z" fill="#f2f2f2" stroke="#000" stroke-width="1.0"/>
<path d="M -1.8,-9 L 1.8,-9 M -1.8,-7 L 1.8,-7 M -1.8,-5 L 1.8,-5" stroke="#000" stroke-width="0.6" fill="none"/>
<path d="M -3.4,-3 L 3.4,-3 L 3.6,0 Q 0,2.8 -3.6,0 Z" fill="#e8e8e8" stroke="#000" stroke-width="1.2"/>
</g>
<ellipse cx="563.7" cy="1143.5" rx="7.0" ry="3.5" transform="rotate(0 563.7 1143.5)" fill="#fff" stroke="#000" stroke-width="1.3"/>
<ellipse cx="563.7" cy="1143.3" rx="3.4" ry="1.6" transform="rotate(0 563.7 1143.3)" fill="#888" stroke="#000" stroke-width="1.0"/>
<ellipse cx="563.7" cy="1157.2" rx="2.8" ry="1.8" transform="rotate(0 563.7 1157.2)" fill="none" stroke="#777" stroke-width="0.6"/>
<g transform="translate(635.0 1089.5) scale(1.45 -1.45)">
<path d="M -1.8,-11 L 1.8,-11 L 1.8,-3 L -1.8,-3 Z" fill="#f2f2f2" stroke="#000" stroke-width="1.0"/>
<path d="M -1.8,-9 L 1.8,-9 M -1.8,-7 L 1.8,-7 M -1.8,-5 L 1.8,-5" stroke="#000" stroke-width="0.6" fill="none"/>
<path d="M -3.4,-3 L 3.4,-3 L 3.6,0 Q 0,2.8 -3.6,0 Z" fill="#e8e8e8" stroke="#000" stroke-width="1.2"/>
</g>
<ellipse cx="635.0" cy="1113.0" rx="7.0" ry="3.5" transform="rotate(0 635.0 1113.0)" fill="#fff" stroke="#000" stroke-width="1.3"/>
<ellipse cx="635.0" cy="1112.8" rx="3.4" ry="1.6" transform="rotate(0 635.0 1112.8)" fill="#888" stroke="#000" stroke-width="1.0"/>
<ellipse cx="635.0" cy="1122.5" rx="2.8" ry="1.8" transform="rotate(0 635.0 1122.5)" fill="none" stroke="#777" stroke-width="0.6"/>
<path d="M 679,1069 L 679,1083" fill="none" stroke="#606060" stroke-width="0.8" />
<g transform="translate(679.0 1091.7) scale(1.0)">
<path d="M -11.5,-1.5 L -6,-6.8 L 5.5,-6.8 L 11.5,-1.5 L 11.5,4 L 6,9 L -5.5,9 L -11.5,4 Z" fill="#fff" stroke="#000" stroke-width="1.5"/>
<path d="M -11.5,-1.5 L -5.5,3.5 L 6,3.5 L 11.5,-1.5 M -5.5,3.5 L -5.5,9 M 6,3.5 L 6,9" fill="none" stroke="#000" stroke-width="1.0"/>
<ellipse cx="0" cy="-1.8" rx="6.3" ry="3.5" fill="#fff" stroke="#000" stroke-width="1.0"/>
<ellipse cx="0" cy="-1.8" rx="4.2" ry="2.2" fill="#bbb" stroke="#000" stroke-width="0.9"/>
</g>
<path d="M 377.5,1188 L 417.5,1164.2" fill="none" stroke="#222" stroke-width="0.9" />
<path d="M 208.3,995.7 L 208.3,1008 M 208.3,995.7 L 256.7,1020.7" fill="none" stroke="#606060" stroke-width="0.8" stroke-dasharray="14 4"/>
<ellipse cx="208.3" cy="1011.7" rx="7.0" ry="3.4" transform="rotate(0 208.3 1011.7)" fill="#fff" stroke="#000" stroke-width="1.3"/>
<ellipse cx="208.3" cy="1011.5" rx="2.8" ry="1.3" transform="rotate(0 208.3 1011.5)" fill="#888" stroke="#000" stroke-width="0.9"/>
<g transform="translate(208.3 1032.0) scale(1.0 1.0)">
<path d="M -1.8,-11 L 1.8,-11 L 1.8,-3 L -1.8,-3 Z" fill="#f2f2f2" stroke="#000" stroke-width="1.0"/>
<path d="M -1.8,-9 L 1.8,-9 M -1.8,-7 L 1.8,-7 M -1.8,-5 L 1.8,-5" stroke="#000" stroke-width="0.6" fill="none"/>
<path d="M -3.4,-3 L 3.4,-3 L 3.6,0 Q 0,2.8 -3.6,0 Z" fill="#e8e8e8" stroke="#000" stroke-width="1.2"/>
</g>
<path d="M 616.25,981.25 L 888.3,836 L 989.7,918.3 L 989.7,964.2 L 744.5,1093 L 616.25,1025 Z" fill="#fff" stroke="none" stroke-width="0" />
<path d="M 888.3,863.3 L 989.7,918.3 L 989.7,964.2 L 744.5,1093 L 616.25,1025 L 616.25,981.25 L 725,924" fill="none" stroke="#000" stroke-width="1.6" />
<path d="M 616.25,981.25 L 744.5,1050 L 988.5,919.2 M 744.5,1050 L 744.5,1093" fill="none" stroke="#606060" stroke-width="0.8" />
<path d="M 632.5,975 L 744.5,1033.75 L 960,918.7" fill="none" stroke="#000" stroke-width="1.6" />
<path d="M 672.5,995 L 838,907 Q 844,903 849,906 L 918,941" fill="none" stroke="#606060" stroke-width="0.8" />
<path d="M 658.7,988.7 L 839,892.5 Q 845.5,889 851,892 L 931.7,932.5" fill="none" stroke="#606060" stroke-width="0.8" />
<path d="M 643.7,981.2 L 735,933 M 860.8,880.8 L 945,925.8" fill="none" stroke="#606060" stroke-width="0.8" />
<path d="M 875,873.3 L 958.3,918.3" fill="none" stroke="#606060" stroke-width="0.8" />
<path d="M 625.75,871.25 L 625.75,881.5 L 633,884 L 639.5,877" fill="#fff" stroke="#000" stroke-width="1.6" />
<path d="M 625.75,871.25 L 724,819.5 L 753,834.5 Q 766,840 771.5,833.5 Q 774,828 764,822 L 740.5,811 L 840,757.7 L 949.3,818.3 L 949.3,829 L 742.5,941.7 L 737,941 L 737,932.5 Z" fill="#fff" stroke="#000" stroke-width="1.6" />
<path d="M 737,932.5 L 946,820.5" fill="none" stroke="#222" stroke-width="0.8" />
<path d="M 727,820.3 L 741,812.7 M 736.5,825.2 L 752,817.2" fill="none" stroke="#000" stroke-width="1.3" />
<ellipse cx="696.2" cy="895.0" rx="10.5" ry="5.6" transform="rotate(0 696.2 895.0)" fill="none" stroke="#000" stroke-width="1.5"/>
<ellipse cx="884.2" cy="795.0" rx="10.5" ry="5.8" transform="rotate(0 884.2 795.0)" fill="none" stroke="#000" stroke-width="1.5"/>
<path d="M 656.1,867.3 a 4.75,2.9 0 1 0 9.5,0 a 4.75,2.9 0 1 0 -9.5,0 M 664.5,871.9 a 4.75,2.9 0 1 0 9.5,0 a 4.75,2.9 0 1 0 -9.5,0 M 672.8,876.5 a 4.75,2.9 0 1 0 9.5,0 a 4.75,2.9 0 1 0 -9.5,0 M 681.1,881.0 a 4.75,2.9 0 1 0 9.5,0 a 4.75,2.9 0 1 0 -9.5,0 M 714.4,899.4 a 4.75,2.9 0 1 0 9.5,0 a 4.75,2.9 0 1 0 -9.5,0 M 722.7,904.0 a 4.75,2.9 0 1 0 9.5,0 a 4.75,2.9 0 1 0 -9.5,0 M 731.0,908.5 a 4.75,2.9 0 1 0 9.5,0 a 4.75,2.9 0 1 0 -9.5,0 M 739.4,913.1 a 4.75,2.9 0 1 0 9.5,0 a 4.75,2.9 0 1 0 -9.5,0 M 664.7,862.7 a 4.75,2.9 0 1 0 9.5,0 a 4.75,2.9 0 1 0 -9.5,0 M 673.0,867.3 a 4.75,2.9 0 1 0 9.5,0 a 4.75,2.9 0 1 0 -9.5,0 M 681.4,871.9 a 4.75,2.9 0 1 0 9.5,0 a 4.75,2.9 0 1 0 -9.5,0 M 689.7,876.5 a 4.75,2.9 0 1 0 9.5,0 a 4.75,2.9 0 1 0 -9.5,0 M 698.0,881.1 a 4.75,2.9 0 1 0 9.5,0 a 4.75,2.9 0 1 0 -9.5,0 M 706.3,885.7 a 4.75,2.9 0 1 0 9.5,0 a 4.75,2.9 0 1 0 -9.5,0 M 714.7,890.2 a 4.75,2.9 0 1 0 9.5,0 a 4.75,2.9 0 1 0 -9.5,0 M 723.0,894.8 a 4.75,2.9 0 1 0 9.5,0 a 4.75,2.9 0 1 0 -9.5,0 M 731.3,899.4 a 4.75,2.9 0 1 0 9.5,0 a 4.75,2.9 0 1 0 -9.5,0 M 739.6,904.0 a 4.75,2.9 0 1 0 9.5,0 a 4.75,2.9 0 1 0 -9.5,0 M 747.9,908.6 a 4.75,2.9 0 1 0 9.5,0 a 4.75,2.9 0 1 0 -9.5,0 M 673.3,858.2 a 4.75,2.9 0 1 0 9.5,0 a 4.75,2.9 0 1 0 -9.5,0 M 681.6,862.8 a 4.75,2.9 0 1 0 9.5,0 a 4.75,2.9 0 1 0 -9.5,0 M 690.0,867.4 a 4.75,2.9 0 1 0 9.5,0 a 4.75,2.9 0 1 0 -9.5,0 M 698.3,871.9 a 4.75,2.9 0 1 0 9.5,0 a 4.75,2.9 0 1 0 -9.5,0 M 706.6,876.5 a 4.75,2.9 0 1 0 9.5,0 a 4.75,2.9 0 1 0 -9.5,0 M 714.9,881.1 a 4.75,2.9 0 1 0 9.5,0 a 4.75,2.9 0 1 0 -9.5,0 M 723.2,885.7 a 4.75,2.9 0 1 0 9.5,0 a 4.75,2.9 0 1 0 -9.5,0 M 731.6,890.3 a 4.75,2.9 0 1 0 9.5,0 a 4.75,2.9 0 1 0 -9.5,0 M 739.9,894.9 a 4.75,2.9 0 1 0 9.5,0 a 4.75,2.9 0 1 0 -9.5,0 M 748.2,899.4 a 4.75,2.9 0 1 0 9.5,0 a 4.75,2.9 0 1 0 -9.5,0 M 756.5,904.0 a 4.75,2.9 0 1 0 9.5,0 a 4.75,2.9 0 1 0 -9.5,0 M 681.9,853.6 a 4.75,2.9 0 1 0 9.5,0 a 4.75,2.9 0 1 0 -9.5,0 M 690.2,858.2 a 4.75,2.9 0 1 0 9.5,0 a 4.75,2.9 0 1 0 -9.5,0 M 698.5,862.8 a 4.75,2.9 0 1 0 9.5,0 a 4.75,2.9 0 1 0 -9.5,0 M 706.9,867.4 a 4.75,2.9 0 1 0 9.5,0 a 4.75,2.9 0 1 0 -9.5,0 M 715.2,872.0 a 4.75,2.9 0 1 0 9.5,0 a 4.75,2.9 0 1 0 -9.5,0 M 723.5,876.6 a 4.75,2.9 0 1 0 9.5,0 a 4.75,2.9 0 1 0 -9.5,0 M 731.8,881.1 a 4.75,2.9 0 1 0 9.5,0 a 4.75,2.9 0 1 0 -9.5,0 M 740.2,885.7 a 4.75,2.9 0 1 0 9.5,0 a 4.75,2.9 0 1 0 -9.5,0 M 748.5,890.3 a 4.75,2.9 0 1 0 9.5,0 a 4.75,2.9 0 1 0 -9.5,0 M 756.8,894.9 a 4.75,2.9 0 1 0 9.5,0 a 4.75,2.9 0 1 0 -9.5,0 M 765.1,899.5 a 4.75,2.9 0 1 0 9.5,0 a 4.75,2.9 0 1 0 -9.5,0 M 690.5,849.1 a 4.75,2.9 0 1 0 9.5,0 a 4.75,2.9 0 1 0 -9.5,0 M 698.8,853.7 a 4.75,2.9 0 1 0 9.5,0 a 4.75,2.9 0 1 0 -9.5,0 M 707.1,858.3 a 4.75,2.9 0 1 0 9.5,0 a 4.75,2.9 0 1 0 -9.5,0 M 715.5,862.8 a 4.75,2.9 0 1 0 9.5,0 a 4.75,2.9 0 1 0 -9.5,0 M 723.8,867.4 a 4.75,2.9 0 1 0 9.5,0 a 4.75,2.9 0 1 0 -9.5,0 M 732.1,872.0 a 4.75,2.9 0 1 0 9.5,0 a 4.75,2.9 0 1 0 -9.5,0 M 740.4,876.6 a 4.75,2.9 0 1 0 9.5,0 a 4.75,2.9 0 1 0 -9.5,0 M 748.7,881.2 a 4.75,2.9 0 1 0 9.5,0 a 4.75,2.9 0 1 0 -9.5,0 M 757.1,885.7 a 4.75,2.9 0 1 0 9.5,0 a 4.75,2.9 0 1 0 -9.5,0 M 765.4,890.3 a 4.75,2.9 0 1 0 9.5,0 a 4.75,2.9 0 1 0 -9.5,0 M 773.7,894.9 a 4.75,2.9 0 1 0 9.5,0 a 4.75,2.9 0 1 0 -9.5,0 M 699.1,844.5 a 4.75,2.9 0 1 0 9.5,0 a 4.75,2.9 0 1 0 -9.5,0 M 707.4,849.1 a 4.75,2.9 0 1 0 9.5,0 a 4.75,2.9 0 1 0 -9.5,0 M 715.7,853.7 a 4.75,2.9 0 1 0 9.5,0 a 4.75,2.9 0 1 0 -9.5,0 M 724.0,858.3 a 4.75,2.9 0 1 0 9.5,0 a 4.75,2.9 0 1 0 -9.5,0 M 732.4,862.9 a 4.75,2.9 0 1 0 9.5,0 a 4.75,2.9 0 1 0 -9.5,0 M 740.7,867.4 a 4.75,2.9 0 1 0 9.5,0 a 4.75,2.9 0 1 0 -9.5,0 M 749.0,872.0 a 4.75,2.9 0 1 0 9.5,0 a 4.75,2.9 0 1 0 -9.5,0 M 757.3,876.6 a 4.75,2.9 0 1 0 9.5,0 a 4.75,2.9 0 1 0 -9.5,0 M 765.7,881.2 a 4.75,2.9 0 1 0 9.5,0 a 4.75,2.9 0 1 0 -9.5,0 M 774.0,885.8 a 4.75,2.9 0 1 0 9.5,0 a 4.75,2.9 0 1 0 -9.5,0 M 782.3,890.4 a 4.75,2.9 0 1 0 9.5,0 a 4.75,2.9 0 1 0 -9.5,0 M 707.7,840.0 a 4.75,2.9 0 1 0 9.5,0 a 4.75,2.9 0 1 0 -9.5,0 M 716.0,844.6 a 4.75,2.9 0 1 0 9.5,0 a 4.75,2.9 0 1 0 -9.5,0 M 724.3,849.2 a 4.75,2.9 0 1 0 9.5,0 a 4.75,2.9 0 1 0 -9.5,0 M 732.6,853.7 a 4.75,2.9 0 1 0 9.5,0 a 4.75,2.9 0 1 0 -9.5,0 M 741.0,858.3 a 4.75,2.9 0 1 0 9.5,0 a 4.75,2.9 0 1 0 -9.5,0 M 749.3,862.9 a 4.75,2.9 0 1 0 9.5,0 a 4.75,2.9 0 1 0 -9.5,0 M 757.6,867.5 a 4.75,2.9 0 1 0 9.5,0 a 4.75,2.9 0 1 0 -9.5,0 M 765.9,872.1 a 4.75,2.9 0 1 0 9.5,0 a 4.75,2.9 0 1 0 -9.5,0 M 774.2,876.6 a 4.75,2.9 0 1 0 9.5,0 a 4.75,2.9 0 1 0 -9.5,0 M 782.6,881.2 a 4.75,2.9 0 1 0 9.5,0 a 4.75,2.9 0 1 0 -9.5,0 M 790.9,885.8 a 4.75,2.9 0 1 0 9.5,0 a 4.75,2.9 0 1 0 -9.5,0 M 716.3,835.4 a 4.75,2.9 0 1 0 9.5,0 a 4.75,2.9 0 1 0 -9.5,0 M 724.6,840.0 a 4.75,2.9 0 1 0 9.5,0 a 4.75,2.9 0 1 0 -9.5,0 M 732.9,844.6 a 4.75,2.9 0 1 0 9.5,0 a 4.75,2.9 0 1 0 -9.5,0 M 741.2,849.2 a 4.75,2.9 0 1 0 9.5,0 a 4.75,2.9 0 1 0 -9.5,0 M 749.5,853.8 a 4.75,2.9 0 1 0 9.5,0 a 4.75,2.9 0 1 0 -9.5,0 M 757.9,858.3 a 4.75,2.9 0 1 0 9.5,0 a 4.75,2.9 0 1 0 -9.5,0 M 766.2,862.9 a 4.75,2.9 0 1 0 9.5,0 a 4.75,2.9 0 1 0 -9.5,0 M 774.5,867.5 a 4.75,2.9 0 1 0 9.5,0 a 4.75,2.9 0 1 0 -9.5,0 M 782.8,872.1 a 4.75,2.9 0 1 0 9.5,0 a 4.75,2.9 0 1 0 -9.5,0 M 791.2,876.7 a 4.75,2.9 0 1 0 9.5,0 a 4.75,2.9 0 1 0 -9.5,0 M 799.5,881.3 a 4.75,2.9 0 1 0 9.5,0 a 4.75,2.9 0 1 0 -9.5,0 M 724.8,830.9 a 4.75,2.9 0 1 0 9.5,0 a 4.75,2.9 0 1 0 -9.5,0 M 733.2,835.5 a 4.75,2.9 0 1 0 9.5,0 a 4.75,2.9 0 1 0 -9.5,0 M 741.5,840.0 a 4.75,2.9 0 1 0 9.5,0 a 4.75,2.9 0 1 0 -9.5,0 M 749.8,844.6 a 4.75,2.9 0 1 0 9.5,0 a 4.75,2.9 0 1 0 -9.5,0 M 758.1,849.2 a 4.75,2.9 0 1 0 9.5,0 a 4.75,2.9 0 1 0 -9.5,0 M 766.5,853.8 a 4.75,2.9 0 1 0 9.5,0 a 4.75,2.9 0 1 0 -9.5,0 M 774.8,858.4 a 4.75,2.9 0 1 0 9.5,0 a 4.75,2.9 0 1 0 -9.5,0 M 783.1,863.0 a 4.75,2.9 0 1 0 9.5,0 a 4.75,2.9 0 1 0 -9.5,0 M 791.4,867.5 a 4.75,2.9 0 1 0 9.5,0 a 4.75,2.9 0 1 0 -9.5,0 M 799.7,872.1 a 4.75,2.9 0 1 0 9.5,0 a 4.75,2.9 0 1 0 -9.5,0 M 808.1,876.7 a 4.75,2.9 0 1 0 9.5,0 a 4.75,2.9 0 1 0 -9.5,0 M 766.7,844.7 a 4.75,2.9 0 1 0 9.5,0 a 4.75,2.9 0 1 0 -9.5,0 M 775.0,849.2 a 4.75,2.9 0 1 0 9.5,0 a 4.75,2.9 0 1 0 -9.5,0 M 783.4,853.8 a 4.75,2.9 0 1 0 9.5,0 a 4.75,2.9 0 1 0 -9.5,0 M 791.7,858.4 a 4.75,2.9 0 1 0 9.5,0 a 4.75,2.9 0 1 0 -9.5,0 M 800.0,863.0 a 4.75,2.9 0 1 0 9.5,0 a 4.75,2.9 0 1 0 -9.5,0 M 808.3,867.6 a 4.75,2.9 0 1 0 9.5,0 a 4.75,2.9 0 1 0 -9.5,0 M 816.7,872.2 a 4.75,2.9 0 1 0 9.5,0 a 4.75,2.9 0 1 0 -9.5,0 M 775.3,840.1 a 4.75,2.9 0 1 0 9.5,0 a 4.75,2.9 0 1 0 -9.5,0 M 783.6,844.7 a 4.75,2.9 0 1 0 9.5,0 a 4.75,2.9 0 1 0 -9.5,0 M 792.0,849.3 a 4.75,2.9 0 1 0 9.5,0 a 4.75,2.9 0 1 0 -9.5,0 M 800.3,853.9 a 4.75,2.9 0 1 0 9.5,0 a 4.75,2.9 0 1 0 -9.5,0 M 808.6,858.4 a 4.75,2.9 0 1 0 9.5,0 a 4.75,2.9 0 1 0 -9.5,0 M 816.9,863.0 a 4.75,2.9 0 1 0 9.5,0 a 4.75,2.9 0 1 0 -9.5,0 M 825.2,867.6 a 4.75,2.9 0 1 0 9.5,0 a 4.75,2.9 0 1 0 -9.5,0 M 783.9,835.6 a 4.75,2.9 0 1 0 9.5,0 a 4.75,2.9 0 1 0 -9.5,0 M 792.2,840.1 a 4.75,2.9 0 1 0 9.5,0 a 4.75,2.9 0 1 0 -9.5,0 M 800.5,844.7 a 4.75,2.9 0 1 0 9.5,0 a 4.75,2.9 0 1 0 -9.5,0 M 808.9,849.3 a 4.75,2.9 0 1 0 9.5,0 a 4.75,2.9 0 1 0 -9.5,0 M 817.2,853.9 a 4.75,2.9 0 1 0 9.5,0 a 4.75,2.9 0 1 0 -9.5,0 M 825.5,858.5 a 4.75,2.9 0 1 0 9.5,0 a 4.75,2.9 0 1 0 -9.5,0 M 833.8,863.0 a 4.75,2.9 0 1 0 9.5,0 a 4.75,2.9 0 1 0 -9.5,0 M 759.2,812.7 a 4.75,2.9 0 1 0 9.5,0 a 4.75,2.9 0 1 0 -9.5,0 M 767.5,817.3 a 4.75,2.9 0 1 0 9.5,0 a 4.75,2.9 0 1 0 -9.5,0 M 775.8,821.8 a 4.75,2.9 0 1 0 9.5,0 a 4.75,2.9 0 1 0 -9.5,0 M 784.2,826.4 a 4.75,2.9 0 1 0 9.5,0 a 4.75,2.9 0 1 0 -9.5,0 M 792.5,831.0 a 4.75,2.9 0 1 0 9.5,0 a 4.75,2.9 0 1 0 -9.5,0 M 800.8,835.6 a 4.75,2.9 0 1 0 9.5,0 a 4.75,2.9 0 1 0 -9.5,0 M 809.1,840.2 a 4.75,2.9 0 1 0 9.5,0 a 4.75,2.9 0 1 0 -9.5,0 M 817.5,844.8 a 4.75,2.9 0 1 0 9.5,0 a 4.75,2.9 0 1 0 -9.5,0 M 825.8,849.3 a 4.75,2.9 0 1 0 9.5,0 a 4.75,2.9 0 1 0 -9.5,0 M 834.1,853.9 a 4.75,2.9 0 1 0 9.5,0 a 4.75,2.9 0 1 0 -9.5,0 M 842.4,858.5 a 4.75,2.9 0 1 0 9.5,0 a 4.75,2.9 0 1 0 -9.5,0 M 767.8,808.1 a 4.75,2.9 0 1 0 9.5,0 a 4.75,2.9 0 1 0 -9.5,0 M 776.1,812.7 a 4.75,2.9 0 1 0 9.5,0 a 4.75,2.9 0 1 0 -9.5,0 M 784.4,817.3 a 4.75,2.9 0 1 0 9.5,0 a 4.75,2.9 0 1 0 -9.5,0 M 792.8,821.9 a 4.75,2.9 0 1 0 9.5,0 a 4.75,2.9 0 1 0 -9.5,0 M 801.1,826.5 a 4.75,2.9 0 1 0 9.5,0 a 4.75,2.9 0 1 0 -9.5,0 M 809.4,831.0 a 4.75,2.9 0 1 0 9.5,0 a 4.75,2.9 0 1 0 -9.5,0 M 817.7,835.6 a 4.75,2.9 0 1 0 9.5,0 a 4.75,2.9 0 1 0 -9.5,0 M 826.0,840.2 a 4.75,2.9 0 1 0 9.5,0 a 4.75,2.9 0 1 0 -9.5,0 M 834.4,844.8 a 4.75,2.9 0 1 0 9.5,0 a 4.75,2.9 0 1 0 -9.5,0 M 842.7,849.4 a 4.75,2.9 0 1 0 9.5,0 a 4.75,2.9 0 1 0 -9.5,0 M 851.0,853.9 a 4.75,2.9 0 1 0 9.5,0 a 4.75,2.9 0 1 0 -9.5,0 M 776.4,803.6 a 4.75,2.9 0 1 0 9.5,0 a 4.75,2.9 0 1 0 -9.5,0 M 784.7,808.2 a 4.75,2.9 0 1 0 9.5,0 a 4.75,2.9 0 1 0 -9.5,0 M 793.0,812.7 a 4.75,2.9 0 1 0 9.5,0 a 4.75,2.9 0 1 0 -9.5,0 M 801.3,817.3 a 4.75,2.9 0 1 0 9.5,0 a 4.75,2.9 0 1 0 -9.5,0 M 809.7,821.9 a 4.75,2.9 0 1 0 9.5,0 a 4.75,2.9 0 1 0 -9.5,0 M 818.0,826.5 a 4.75,2.9 0 1 0 9.5,0 a 4.75,2.9 0 1 0 -9.5,0 M 826.3,831.1 a 4.75,2.9 0 1 0 9.5,0 a 4.75,2.9 0 1 0 -9.5,0 M 834.6,835.6 a 4.75,2.9 0 1 0 9.5,0 a 4.75,2.9 0 1 0 -9.5,0 M 843.0,840.2 a 4.75,2.9 0 1 0 9.5,0 a 4.75,2.9 0 1 0 -9.5,0 M 851.3,844.8 a 4.75,2.9 0 1 0 9.5,0 a 4.75,2.9 0 1 0 -9.5,0 M 859.6,849.4 a 4.75,2.9 0 1 0 9.5,0 a 4.75,2.9 0 1 0 -9.5,0 M 785.0,799.0 a 4.75,2.9 0 1 0 9.5,0 a 4.75,2.9 0 1 0 -9.5,0 M 793.3,803.6 a 4.75,2.9 0 1 0 9.5,0 a 4.75,2.9 0 1 0 -9.5,0 M 801.6,808.2 a 4.75,2.9 0 1 0 9.5,0 a 4.75,2.9 0 1 0 -9.5,0 M 809.9,812.8 a 4.75,2.9 0 1 0 9.5,0 a 4.75,2.9 0 1 0 -9.5,0 M 818.3,817.4 a 4.75,2.9 0 1 0 9.5,0 a 4.75,2.9 0 1 0 -9.5,0 M 826.6,821.9 a 4.75,2.9 0 1 0 9.5,0 a 4.75,2.9 0 1 0 -9.5,0 M 834.9,826.5 a 4.75,2.9 0 1 0 9.5,0 a 4.75,2.9 0 1 0 -9.5,0 M 843.2,831.1 a 4.75,2.9 0 1 0 9.5,0 a 4.75,2.9 0 1 0 -9.5,0 M 851.5,835.7 a 4.75,2.9 0 1 0 9.5,0 a 4.75,2.9 0 1 0 -9.5,0 M 859.9,840.3 a 4.75,2.9 0 1 0 9.5,0 a 4.75,2.9 0 1 0 -9.5,0 M 868.2,844.8 a 4.75,2.9 0 1 0 9.5,0 a 4.75,2.9 0 1 0 -9.5,0 M 793.6,794.5 a 4.75,2.9 0 1 0 9.5,0 a 4.75,2.9 0 1 0 -9.5,0 M 801.9,799.1 a 4.75,2.9 0 1 0 9.5,0 a 4.75,2.9 0 1 0 -9.5,0 M 810.2,803.6 a 4.75,2.9 0 1 0 9.5,0 a 4.75,2.9 0 1 0 -9.5,0 M 818.5,808.2 a 4.75,2.9 0 1 0 9.5,0 a 4.75,2.9 0 1 0 -9.5,0 M 826.8,812.8 a 4.75,2.9 0 1 0 9.5,0 a 4.75,2.9 0 1 0 -9.5,0 M 835.2,817.4 a 4.75,2.9 0 1 0 9.5,0 a 4.75,2.9 0 1 0 -9.5,0 M 843.5,822.0 a 4.75,2.9 0 1 0 9.5,0 a 4.75,2.9 0 1 0 -9.5,0 M 851.8,826.5 a 4.75,2.9 0 1 0 9.5,0 a 4.75,2.9 0 1 0 -9.5,0 M 860.1,831.1 a 4.75,2.9 0 1 0 9.5,0 a 4.75,2.9 0 1 0 -9.5,0 M 868.5,835.7 a 4.75,2.9 0 1 0 9.5,0 a 4.75,2.9 0 1 0 -9.5,0 M 876.8,840.3 a 4.75,2.9 0 1 0 9.5,0 a 4.75,2.9 0 1 0 -9.5,0 M 802.1,789.9 a 4.75,2.9 0 1 0 9.5,0 a 4.75,2.9 0 1 0 -9.5,0 M 810.5,794.5 a 4.75,2.9 0 1 0 9.5,0 a 4.75,2.9 0 1 0 -9.5,0 M 818.8,799.1 a 4.75,2.9 0 1 0 9.5,0 a 4.75,2.9 0 1 0 -9.5,0 M 827.1,803.7 a 4.75,2.9 0 1 0 9.5,0 a 4.75,2.9 0 1 0 -9.5,0 M 835.4,808.2 a 4.75,2.9 0 1 0 9.5,0 a 4.75,2.9 0 1 0 -9.5,0 M 843.8,812.8 a 4.75,2.9 0 1 0 9.5,0 a 4.75,2.9 0 1 0 -9.5,0 M 852.1,817.4 a 4.75,2.9 0 1 0 9.5,0 a 4.75,2.9 0 1 0 -9.5,0 M 860.4,822.0 a 4.75,2.9 0 1 0 9.5,0 a 4.75,2.9 0 1 0 -9.5,0 M 868.7,826.6 a 4.75,2.9 0 1 0 9.5,0 a 4.75,2.9 0 1 0 -9.5,0 M 877.0,831.2 a 4.75,2.9 0 1 0 9.5,0 a 4.75,2.9 0 1 0 -9.5,0 M 885.4,835.7 a 4.75,2.9 0 1 0 9.5,0 a 4.75,2.9 0 1 0 -9.5,0 M 810.7,785.4 a 4.75,2.9 0 1 0 9.5,0 a 4.75,2.9 0 1 0 -9.5,0 M 819.1,789.9 a 4.75,2.9 0 1 0 9.5,0 a 4.75,2.9 0 1 0 -9.5,0 M 827.4,794.5 a 4.75,2.9 0 1 0 9.5,0 a 4.75,2.9 0 1 0 -9.5,0 M 835.7,799.1 a 4.75,2.9 0 1 0 9.5,0 a 4.75,2.9 0 1 0 -9.5,0 M 844.0,803.7 a 4.75,2.9 0 1 0 9.5,0 a 4.75,2.9 0 1 0 -9.5,0 M 852.3,808.3 a 4.75,2.9 0 1 0 9.5,0 a 4.75,2.9 0 1 0 -9.5,0 M 860.7,812.9 a 4.75,2.9 0 1 0 9.5,0 a 4.75,2.9 0 1 0 -9.5,0 M 869.0,817.4 a 4.75,2.9 0 1 0 9.5,0 a 4.75,2.9 0 1 0 -9.5,0 M 877.3,822.0 a 4.75,2.9 0 1 0 9.5,0 a 4.75,2.9 0 1 0 -9.5,0 M 885.6,826.6 a 4.75,2.9 0 1 0 9.5,0 a 4.75,2.9 0 1 0 -9.5,0 M 893.9,831.2 a 4.75,2.9 0 1 0 9.5,0 a 4.75,2.9 0 1 0 -9.5,0 M 819.3,780.8 a 4.75,2.9 0 1 0 9.5,0 a 4.75,2.9 0 1 0 -9.5,0 M 827.6,785.4 a 4.75,2.9 0 1 0 9.5,0 a 4.75,2.9 0 1 0 -9.5,0 M 836.0,790.0 a 4.75,2.9 0 1 0 9.5,0 a 4.75,2.9 0 1 0 -9.5,0 M 844.3,794.6 a 4.75,2.9 0 1 0 9.5,0 a 4.75,2.9 0 1 0 -9.5,0 M 852.6,799.1 a 4.75,2.9 0 1 0 9.5,0 a 4.75,2.9 0 1 0 -9.5,0 M 860.9,803.7 a 4.75,2.9 0 1 0 9.5,0 a 4.75,2.9 0 1 0 -9.5,0 M 869.2,808.3 a 4.75,2.9 0 1 0 9.5,0 a 4.75,2.9 0 1 0 -9.5,0 M 877.6,812.9 a 4.75,2.9 0 1 0 9.5,0 a 4.75,2.9 0 1 0 -9.5,0 M 885.9,817.5 a 4.75,2.9 0 1 0 9.5,0 a 4.75,2.9 0 1 0 -9.5,0 M 894.2,822.1 a 4.75,2.9 0 1 0 9.5,0 a 4.75,2.9 0 1 0 -9.5,0 M 902.5,826.6 a 4.75,2.9 0 1 0 9.5,0 a 4.75,2.9 0 1 0 -9.5,0 M 827.9,776.3 a 4.75,2.9 0 1 0 9.5,0 a 4.75,2.9 0 1 0 -9.5,0 M 836.2,780.8 a 4.75,2.9 0 1 0 9.5,0 a 4.75,2.9 0 1 0 -9.5,0 M 844.5,785.4 a 4.75,2.9 0 1 0 9.5,0 a 4.75,2.9 0 1 0 -9.5,0 M 852.9,790.0 a 4.75,2.9 0 1 0 9.5,0 a 4.75,2.9 0 1 0 -9.5,0 M 886.2,808.3 a 4.75,2.9 0 1 0 9.5,0 a 4.75,2.9 0 1 0 -9.5,0 M 894.5,812.9 a 4.75,2.9 0 1 0 9.5,0 a 4.75,2.9 0 1 0 -9.5,0 M 902.8,817.5 a 4.75,2.9 0 1 0 9.5,0 a 4.75,2.9 0 1 0 -9.5,0 M 911.1,822.1 a 4.75,2.9 0 1 0 9.5,0 a 4.75,2.9 0 1 0 -9.5,0" fill="#fff" stroke="#2a2a2a" stroke-width="0.85" />
<path d="M 657.1,868.2 q 4,2.6 7.6,0 M 665.4,872.8 q 4,2.6 7.6,0 M 673.7,877.4 q 4,2.6 7.6,0 M 682.1,881.9 q 4,2.6 7.6,0 M 715.3,900.3 q 4,2.6 7.6,0 M 723.7,904.9 q 4,2.6 7.6,0 M 732.0,909.4 q 4,2.6 7.6,0 M 740.3,914.0 q 4,2.6 7.6,0 M 665.7,863.6 q 4,2.6 7.6,0 M 674.0,868.2 q 4,2.6 7.6,0 M 682.3,872.8 q 4,2.6 7.6,0 M 690.6,877.4 q 4,2.6 7.6,0 M 699.0,882.0 q 4,2.6 7.6,0 M 707.3,886.6 q 4,2.6 7.6,0 M 715.6,891.1 q 4,2.6 7.6,0 M 723.9,895.7 q 4,2.6 7.6,0 M 732.3,900.3 q 4,2.6 7.6,0 M 740.6,904.9 q 4,2.6 7.6,0 M 748.9,909.5 q 4,2.6 7.6,0 M 674.3,859.1 q 4,2.6 7.6,0 M 682.6,863.7 q 4,2.6 7.6,0 M 690.9,868.3 q 4,2.6 7.6,0 M 699.2,872.8 q 4,2.6 7.6,0 M 707.6,877.4 q 4,2.6 7.6,0 M 715.9,882.0 q 4,2.6 7.6,0 M 724.2,886.6 q 4,2.6 7.6,0 M 732.5,891.2 q 4,2.6 7.6,0 M 740.8,895.8 q 4,2.6 7.6,0 M 749.2,900.3 q 4,2.6 7.6,0 M 757.5,904.9 q 4,2.6 7.6,0 M 682.9,854.5 q 4,2.6 7.6,0 M 691.2,859.1 q 4,2.6 7.6,0 M 699.5,863.7 q 4,2.6 7.6,0 M 707.8,868.3 q 4,2.6 7.6,0 M 716.1,872.9 q 4,2.6 7.6,0 M 724.5,877.5 q 4,2.6 7.6,0 M 732.8,882.0 q 4,2.6 7.6,0 M 741.1,886.6 q 4,2.6 7.6,0 M 749.4,891.2 q 4,2.6 7.6,0 M 757.8,895.8 q 4,2.6 7.6,0 M 766.1,900.4 q 4,2.6 7.6,0 M 691.4,850.0 q 4,2.6 7.6,0 M 699.8,854.6 q 4,2.6 7.6,0 M 708.1,859.2 q 4,2.6 7.6,0 M 716.4,863.7 q 4,2.6 7.6,0 M 724.7,868.3 q 4,2.6 7.6,0 M 733.1,872.9 q 4,2.6 7.6,0 M 741.4,877.5 q 4,2.6 7.6,0 M 749.7,882.1 q 4,2.6 7.6,0 M 758.0,886.6 q 4,2.6 7.6,0 M 766.3,891.2 q 4,2.6 7.6,0 M 774.7,895.8 q 4,2.6 7.6,0 M 700.0,845.4 q 4,2.6 7.6,0 M 708.4,850.0 q 4,2.6 7.6,0 M 716.7,854.6 q 4,2.6 7.6,0 M 725.0,859.2 q 4,2.6 7.6,0 M 733.3,863.8 q 4,2.6 7.6,0 M 741.6,868.3 q 4,2.6 7.6,0 M 750.0,872.9 q 4,2.6 7.6,0 M 758.3,877.5 q 4,2.6 7.6,0 M 766.6,882.1 q 4,2.6 7.6,0 M 774.9,886.7 q 4,2.6 7.6,0 M 783.3,891.3 q 4,2.6 7.6,0 M 708.6,840.9 q 4,2.6 7.6,0 M 716.9,845.5 q 4,2.6 7.6,0 M 725.3,850.1 q 4,2.6 7.6,0 M 733.6,854.6 q 4,2.6 7.6,0 M 741.9,859.2 q 4,2.6 7.6,0 M 750.2,863.8 q 4,2.6 7.6,0 M 758.6,868.4 q 4,2.6 7.6,0 M 766.9,873.0 q 4,2.6 7.6,0 M 775.2,877.5 q 4,2.6 7.6,0 M 783.5,882.1 q 4,2.6 7.6,0 M 791.8,886.7 q 4,2.6 7.6,0 M 717.2,836.3 q 4,2.6 7.6,0 M 725.5,840.9 q 4,2.6 7.6,0 M 733.9,845.5 q 4,2.6 7.6,0 M 742.2,850.1 q 4,2.6 7.6,0 M 750.5,854.7 q 4,2.6 7.6,0 M 758.8,859.2 q 4,2.6 7.6,0 M 767.1,863.8 q 4,2.6 7.6,0 M 775.5,868.4 q 4,2.6 7.6,0 M 783.8,873.0 q 4,2.6 7.6,0 M 792.1,877.6 q 4,2.6 7.6,0 M 800.4,882.2 q 4,2.6 7.6,0 M 725.8,831.8 q 4,2.6 7.6,0 M 734.1,836.4 q 4,2.6 7.6,0 M 742.4,840.9 q 4,2.6 7.6,0 M 750.8,845.5 q 4,2.6 7.6,0 M 759.1,850.1 q 4,2.6 7.6,0 M 767.4,854.7 q 4,2.6 7.6,0 M 775.7,859.3 q 4,2.6 7.6,0 M 784.0,863.9 q 4,2.6 7.6,0 M 792.4,868.4 q 4,2.6 7.6,0 M 800.7,873.0 q 4,2.6 7.6,0 M 809.0,877.6 q 4,2.6 7.6,0 M 767.7,845.6 q 4,2.6 7.6,0 M 776.0,850.1 q 4,2.6 7.6,0 M 784.3,854.7 q 4,2.6 7.6,0 M 792.6,859.3 q 4,2.6 7.6,0 M 801.0,863.9 q 4,2.6 7.6,0 M 809.3,868.5 q 4,2.6 7.6,0 M 817.6,873.1 q 4,2.6 7.6,0 M 776.3,841.0 q 4,2.6 7.6,0 M 784.6,845.6 q 4,2.6 7.6,0 M 792.9,850.2 q 4,2.6 7.6,0 M 801.2,854.8 q 4,2.6 7.6,0 M 809.5,859.3 q 4,2.6 7.6,0 M 817.9,863.9 q 4,2.6 7.6,0 M 826.2,868.5 q 4,2.6 7.6,0 M 784.8,836.5 q 4,2.6 7.6,0 M 793.2,841.0 q 4,2.6 7.6,0 M 801.5,845.6 q 4,2.6 7.6,0 M 809.8,850.2 q 4,2.6 7.6,0 M 818.1,854.8 q 4,2.6 7.6,0 M 826.5,859.4 q 4,2.6 7.6,0 M 834.8,863.9 q 4,2.6 7.6,0 M 760.1,813.6 q 4,2.6 7.6,0 M 768.5,818.2 q 4,2.6 7.6,0 M 776.8,822.7 q 4,2.6 7.6,0 M 785.1,827.3 q 4,2.6 7.6,0 M 793.4,831.9 q 4,2.6 7.6,0 M 801.8,836.5 q 4,2.6 7.6,0 M 810.1,841.1 q 4,2.6 7.6,0 M 818.4,845.7 q 4,2.6 7.6,0 M 826.7,850.2 q 4,2.6 7.6,0 M 835.0,854.8 q 4,2.6 7.6,0 M 843.4,859.4 q 4,2.6 7.6,0 M 768.7,809.0 q 4,2.6 7.6,0 M 777.1,813.6 q 4,2.6 7.6,0 M 785.4,818.2 q 4,2.6 7.6,0 M 793.7,822.8 q 4,2.6 7.6,0 M 802.0,827.4 q 4,2.6 7.6,0 M 810.3,831.9 q 4,2.6 7.6,0 M 818.7,836.5 q 4,2.6 7.6,0 M 827.0,841.1 q 4,2.6 7.6,0 M 835.3,845.7 q 4,2.6 7.6,0 M 843.6,850.3 q 4,2.6 7.6,0 M 852.0,854.8 q 4,2.6 7.6,0 M 777.3,804.5 q 4,2.6 7.6,0 M 785.6,809.1 q 4,2.6 7.6,0 M 794.0,813.6 q 4,2.6 7.6,0 M 802.3,818.2 q 4,2.6 7.6,0 M 810.6,822.8 q 4,2.6 7.6,0 M 818.9,827.4 q 4,2.6 7.6,0 M 827.3,832.0 q 4,2.6 7.6,0 M 835.6,836.5 q 4,2.6 7.6,0 M 843.9,841.1 q 4,2.6 7.6,0 M 852.2,845.7 q 4,2.6 7.6,0 M 860.5,850.3 q 4,2.6 7.6,0 M 785.9,799.9 q 4,2.6 7.6,0 M 794.2,804.5 q 4,2.6 7.6,0 M 802.6,809.1 q 4,2.6 7.6,0 M 810.9,813.7 q 4,2.6 7.6,0 M 819.2,818.3 q 4,2.6 7.6,0 M 827.5,822.8 q 4,2.6 7.6,0 M 835.8,827.4 q 4,2.6 7.6,0 M 844.2,832.0 q 4,2.6 7.6,0 M 852.5,836.6 q 4,2.6 7.6,0 M 860.8,841.2 q 4,2.6 7.6,0 M 869.1,845.7 q 4,2.6 7.6,0 M 794.5,795.4 q 4,2.6 7.6,0 M 802.8,800.0 q 4,2.6 7.6,0 M 811.1,804.5 q 4,2.6 7.6,0 M 819.5,809.1 q 4,2.6 7.6,0 M 827.8,813.7 q 4,2.6 7.6,0 M 836.1,818.3 q 4,2.6 7.6,0 M 844.4,822.9 q 4,2.6 7.6,0 M 852.8,827.4 q 4,2.6 7.6,0 M 861.1,832.0 q 4,2.6 7.6,0 M 869.4,836.6 q 4,2.6 7.6,0 M 877.7,841.2 q 4,2.6 7.6,0 M 803.1,790.8 q 4,2.6 7.6,0 M 811.4,795.4 q 4,2.6 7.6,0 M 819.7,800.0 q 4,2.6 7.6,0 M 828.1,804.6 q 4,2.6 7.6,0 M 836.4,809.1 q 4,2.6 7.6,0 M 844.7,813.7 q 4,2.6 7.6,0 M 853.0,818.3 q 4,2.6 7.6,0 M 861.3,822.9 q 4,2.6 7.6,0 M 869.7,827.5 q 4,2.6 7.6,0 M 878.0,832.1 q 4,2.6 7.6,0 M 886.3,836.6 q 4,2.6 7.6,0 M 811.7,786.3 q 4,2.6 7.6,0 M 820.0,790.8 q 4,2.6 7.6,0 M 828.3,795.4 q 4,2.6 7.6,0 M 836.6,800.0 q 4,2.6 7.6,0 M 845.0,804.6 q 4,2.6 7.6,0 M 853.3,809.2 q 4,2.6 7.6,0 M 861.6,813.8 q 4,2.6 7.6,0 M 869.9,818.3 q 4,2.6 7.6,0 M 878.3,822.9 q 4,2.6 7.6,0 M 886.6,827.5 q 4,2.6 7.6,0 M 894.9,832.1 q 4,2.6 7.6,0 M 820.3,781.7 q 4,2.6 7.6,0 M 828.6,786.3 q 4,2.6 7.6,0 M 836.9,790.9 q 4,2.6 7.6,0 M 845.2,795.5 q 4,2.6 7.6,0 M 853.6,800.0 q 4,2.6 7.6,0 M 861.9,804.6 q 4,2.6 7.6,0 M 870.2,809.2 q 4,2.6 7.6,0 M 878.5,813.8 q 4,2.6 7.6,0 M 886.8,818.4 q 4,2.6 7.6,0 M 895.2,823.0 q 4,2.6 7.6,0 M 903.5,827.5 q 4,2.6 7.6,0 M 828.9,777.2 q 4,2.6 7.6,0 M 837.2,781.7 q 4,2.6 7.6,0 M 845.5,786.3 q 4,2.6 7.6,0 M 853.8,790.9 q 4,2.6 7.6,0 M 887.1,809.2 q 4,2.6 7.6,0 M 895.4,813.8 q 4,2.6 7.6,0 M 903.8,818.4 q 4,2.6 7.6,0 M 912.1,823.0 q 4,2.6 7.6,0" fill="none" stroke="#555" stroke-width="0.6" />
<path d="M 875,736.7 L 931.7,705 L 936,708.3 L 936,720 L 878.3,751 L 875,748.3 Z" fill="#fff" stroke="#000" stroke-width="1.6" />
<path d="M 879.5,739.5 L 931.5,710.5 L 931.5,718.5 L 879.5,747 Z" fill="#fff" stroke="#333" stroke-width="0.8" />
<path d="M 877.5,738.5 L 933.5,707.5 L 933.5,719.5 L 877.5,749.5 Z" fill="none" stroke="#606060" stroke-width="0.6" />
<ellipse cx="881.5" cy="743.0" rx="0.9" ry="1.5" transform="rotate(20 881.5 743.0)" fill="none" stroke="#000" stroke-width="0.7"/>
<ellipse cx="929.5" cy="715.0" rx="0.9" ry="1.5" transform="rotate(20 929.5 715.0)" fill="none" stroke="#000" stroke-width="0.7"/>
<path d="M 853.5,726.5 L 874.5,737 M 882,744 L 891,748" fill="none" stroke="#606060" stroke-width="0.8" />
<path d="M 796,962 L 796,975" fill="none" stroke="#606060" stroke-width="0.8" />
<ellipse cx="795.5" cy="975.0" rx="11.0" ry="5.5" transform="rotate(0 795.5 975.0)" fill="none" stroke="#555" stroke-width="0.6"/>
<ellipse cx="795.5" cy="975.5" rx="5.0" ry="2.6" transform="rotate(0 795.5 975.5)" fill="none" stroke="#000" stroke-width="1.6"/>
<ellipse cx="796.0" cy="960.5" rx="5.6" ry="3.1" transform="rotate(0 796.0 960.5)" fill="#fff" stroke="#000" stroke-width="1.7"/>
<path d="M 790.3,946 L 790.3,953.5 Q 795.5,957 801,953.5 L 801,946" fill="#aaa" stroke="#000" stroke-width="1.1" />
<path d="M 786.8,944.5 L 786.8,947.5 Q 795.5,954 804.2,947.5 L 804.2,944.5" fill="#fff" stroke="#000" stroke-width="1.2" />
<ellipse cx="795.5" cy="944.5" rx="8.7" ry="4.5" transform="rotate(0 795.5 944.5)" fill="#fff" stroke="#000" stroke-width="1.4"/>
<ellipse cx="796.0" cy="944.0" rx="3.2" ry="1.5" transform="rotate(0 796.0 944.0)" fill="none" stroke="#555" stroke-width="0.6"/>
<path d="M 805.5,946.2 L 831.7,955.2 L 803,960" fill="none" stroke="#222" stroke-width="0.8" />
<path d="M 796,1069 L 796,1107" fill="none" stroke="#606060" stroke-width="0.8" />
<ellipse cx="796.0" cy="1077.3" rx="6.0" ry="3.1" transform="rotate(0 796.0 1077.3)" fill="#fff" stroke="#000" stroke-width="1.4"/>
<g transform="translate(796 1091.7) scale(0.75)">
<path d="M -11.5,-1.5 L -6,-6.8 L 5.5,-6.8 L 11.5,-1.5 L 11.5,3 L 6,8 L -5.5,8 L -11.5,3 Z" fill="#fff" stroke="#000" stroke-width="2"/>
<path d="M -11.5,-1.5 L -5.5,3.5 L 6,3.5 L 11.5,-1.5" fill="none" stroke="#000" stroke-width="1.2"/>
<ellipse cx="0" cy="-1.8" rx="6.3" ry="3.5" fill="#e8e8e8" stroke="#000" stroke-width="1.3"/>
</g>
<path d="M 803.3,1097.3 L 833.3,1115.7" fill="none" stroke="#222" stroke-width="0.9" />
<path d="M 247.3,1115.0 L 247.3,1156.0 A 23.7 11.0 0 0 0 294.7,1156.0 L 294.7,1115.0 Z" fill="#fff" stroke="#000" stroke-width="1.5" />
<path d="M 247.3,1150.0 A 23.7 11.0 0 0 0 294.7,1150.0" fill="none" stroke="#606060" stroke-width="0.7" />
<ellipse cx="271.0" cy="1115.0" rx="23.7" ry="12.0" transform="rotate(0 271.0 1115.0)" fill="#fff" stroke="#000" stroke-width="1.6"/>
<ellipse cx="271.0" cy="1118.2" rx="17.2" ry="8.8" transform="rotate(0 271.0 1118.2)" fill="#fff" stroke="#000" stroke-width="1.7"/>
<ellipse cx="271.0" cy="1119.2" rx="14.5" ry="7.0" transform="rotate(0 271.0 1119.2)" fill="#fff" stroke="#000" stroke-width="0.9"/>
<path d="M 257.5,1119.0 l 4,-4 l 6,-1.5 M 284.5,1119.0 l -4,-4 l -6,-1.5 M 261.5,1115.0 l 0,5 M 280.5,1115.0 l 0,5" fill="none" stroke="#000" stroke-width="0.9" />
<path d="M 257.5,1121.0 Q 271.0,1129.5 284.5,1121.0" fill="none" stroke="#000" stroke-width="1.0" />
<path d="M 266.0,1124.5 L 266.0,1105.5 Q 271.0,1103.0 276.0,1105.5 L 276.0,1124.5 Q 271.0,1126.5 266.0,1124.5 Z" fill="#f4f4f4" stroke="#000" stroke-width="1.0" />
<path d="M 266.0,1108.0 L 276.0,1108.0" fill="none" stroke="#333" stroke-width="0.6" />
<path d="M 266.0,1110.2 L 276.0,1110.2" fill="none" stroke="#333" stroke-width="0.6" />
<path d="M 266.0,1112.4 L 276.0,1112.4" fill="none" stroke="#333" stroke-width="0.6" />
<path d="M 266.0,1114.6 L 276.0,1114.6" fill="none" stroke="#333" stroke-width="0.6" />
<path d="M 266.0,1116.8 L 276.0,1116.8" fill="none" stroke="#333" stroke-width="0.6" />
<path d="M 266.0,1119.0 L 276.0,1119.0" fill="none" stroke="#333" stroke-width="0.6" />
<path d="M 266.0,1121.2 L 276.0,1121.2" fill="none" stroke="#333" stroke-width="0.6" />
<path d="M 266.0,1123.4 L 276.0,1123.4" fill="none" stroke="#333" stroke-width="0.6" />
<path d="M 270.7,1084 L 270.7,1103" fill="none" stroke="#606060" stroke-width="0.8" />
<path d="M 494.3,1237.0 L 494.3,1273.0 A 23.7 11.0 0 0 0 541.7,1273.0 L 541.7,1237.0 Z" fill="#fff" stroke="#000" stroke-width="1.5" />
<path d="M 494.3,1267.0 A 23.7 11.0 0 0 0 541.7,1267.0" fill="none" stroke="#606060" stroke-width="0.7" />
<ellipse cx="518.0" cy="1237.0" rx="23.7" ry="12.0" transform="rotate(0 518.0 1237.0)" fill="#fff" stroke="#000" stroke-width="1.6"/>
<ellipse cx="518.0" cy="1240.2" rx="17.2" ry="8.8" transform="rotate(0 518.0 1240.2)" fill="#fff" stroke="#000" stroke-width="1.7"/>
<ellipse cx="518.0" cy="1241.2" rx="14.5" ry="7.0" transform="rotate(0 518.0 1241.2)" fill="#fff" stroke="#000" stroke-width="0.9"/>
<path d="M 504.5,1241.0 l 4,-4 l 6,-1.5 M 531.5,1241.0 l -4,-4 l -6,-1.5 M 508.5,1237.0 l 0,5 M 527.5,1237.0 l 0,5" fill="none" stroke="#000" stroke-width="0.9" />
<path d="M 504.5,1243.0 Q 518.0,1251.5 531.5,1243.0" fill="none" stroke="#000" stroke-width="1.0" />
<path d="M 513.0,1246.5 L 513.0,1227.5 Q 518.0,1225.0 523.0,1227.5 L 523.0,1246.5 Q 518.0,1248.5 513.0,1246.5 Z" fill="#f4f4f4" stroke="#000" stroke-width="1.0" />
<path d="M 513.0,1230.0 L 523.0,1230.0" fill="none" stroke="#333" stroke-width="0.6" />
<path d="M 513.0,1232.2 L 523.0,1232.2" fill="none" stroke="#333" stroke-width="0.6" />
<path d="M 513.0,1234.4 L 523.0,1234.4" fill="none" stroke="#333" stroke-width="0.6" />
<path d="M 513.0,1236.6 L 523.0,1236.6" fill="none" stroke="#333" stroke-width="0.6" />
<path d="M 513.0,1238.8 L 523.0,1238.8" fill="none" stroke="#333" stroke-width="0.6" />
<path d="M 513.0,1241.0 L 523.0,1241.0" fill="none" stroke="#333" stroke-width="0.6" />
<path d="M 513.0,1243.2 L 523.0,1243.2" fill="none" stroke="#333" stroke-width="0.6" />
<path d="M 513.0,1245.4 L 523.0,1245.4" fill="none" stroke="#333" stroke-width="0.6" />
<path d="M 518,1209 L 518,1225" fill="none" stroke="#606060" stroke-width="0.8" />
<path d="M 655.3,1186.5 L 655.3,1219.0 A 23.7 11.0 0 0 0 702.7,1219.0 L 702.7,1186.5 Z" fill="#fff" stroke="#000" stroke-width="1.5" />
<path d="M 655.3,1213.0 A 23.7 11.0 0 0 0 702.7,1213.0" fill="none" stroke="#606060" stroke-width="0.7" />
<ellipse cx="679.0" cy="1186.5" rx="23.7" ry="12.0" transform="rotate(0 679.0 1186.5)" fill="#fff" stroke="#000" stroke-width="1.6"/>
<ellipse cx="679.0" cy="1189.7" rx="17.2" ry="8.8" transform="rotate(0 679.0 1189.7)" fill="#fff" stroke="#000" stroke-width="1.7"/>
<ellipse cx="679.0" cy="1190.7" rx="14.5" ry="7.0" transform="rotate(0 679.0 1190.7)" fill="#fff" stroke="#000" stroke-width="0.9"/>
<path d="M 665.5,1190.5 l 4,-4 l 6,-1.5 M 692.5,1190.5 l -4,-4 l -6,-1.5 M 669.5,1186.5 l 0,5 M 688.5,1186.5 l 0,5" fill="none" stroke="#000" stroke-width="0.9" />
<path d="M 665.5,1192.5 Q 679.0,1201.0 692.5,1192.5" fill="none" stroke="#000" stroke-width="1.0" />
<path d="M 674.0,1196.0 L 674.0,1177.0 Q 679.0,1174.5 684.0,1177.0 L 684.0,1196.0 Q 679.0,1198.0 674.0,1196.0 Z" fill="#f4f4f4" stroke="#000" stroke-width="1.0" />
<path d="M 674.0,1179.5 L 684.0,1179.5" fill="none" stroke="#333" stroke-width="0.6" />
<path d="M 674.0,1181.7 L 684.0,1181.7" fill="none" stroke="#333" stroke-width="0.6" />
<path d="M 674.0,1183.9 L 684.0,1183.9" fill="none" stroke="#333" stroke-width="0.6" />
<path d="M 674.0,1186.1 L 684.0,1186.1" fill="none" stroke="#333" stroke-width="0.6" />
<path d="M 674.0,1188.3 L 684.0,1188.3" fill="none" stroke="#333" stroke-width="0.6" />
<path d="M 674.0,1190.5 L 684.0,1190.5" fill="none" stroke="#333" stroke-width="0.6" />
<path d="M 674.0,1192.7 L 684.0,1192.7" fill="none" stroke="#333" stroke-width="0.6" />
<path d="M 674.0,1194.9 L 684.0,1194.9" fill="none" stroke="#333" stroke-width="0.6" />
<path d="M 679,1154 L 679,1176" fill="none" stroke="#606060" stroke-width="0.8" />
<path d="M 547,1233 L 598.7,1205 L 650.5,1231.5 L 650.5,1259.5 L 598.7,1288 L 547,1260.5 Z" fill="#c9c9c9" stroke="#000" stroke-width="1.6" />
<path d="M 547,1233 L 598.7,1258 L 650.5,1231.5 M 598.7,1258 L 598.7,1288" fill="none" stroke="#000" stroke-width="1.5" />
<path d="M 552.7,1233 L 598.7,1209.5 L 645,1232 L 598.7,1255 Z" fill="#c9c9c9" stroke="#000" stroke-width="1.2" />
<path d="M 598.7,1209.5 L 598.7,1233.5 M 575.5,1245.5 L 598.7,1233.5 L 620.5,1245" fill="none" stroke="#000" stroke-width="1.0" />
<path d="M 574.5,1260.5 L 558.5,1271.5 L 562.5,1282.5 L 579.5,1271 Z" fill="#c9c9c9" stroke="none" stroke-width="0" />
<path d="M 574.5,1260.5 L 558.5,1271.5 M 562.5,1282.5 L 579.5,1271" fill="none" stroke="#000" stroke-width="1.4" />
<ellipse cx="560.4" cy="1277.0" rx="3.7" ry="5.8" transform="rotate(22 560.4 1277.0)" fill="#c9c9c9" stroke="#000" stroke-width="1.4"/>
<path d="M 635,1140.5 L 635,1269" fill="none" stroke="#555" stroke-width="0.8" stroke-dasharray="22 4 4 4"/>
<text x="160.0" y="56.0" font-size="10" font-family='"Liberation Serif", serif' fill="#222" text-anchor="start">1</text>
<path d="M 168,51 L 219,75" fill="none" stroke="#222" stroke-width="0.9" />
<text x="288.5" y="121.0" font-size="10" font-family='"Liberation Serif", serif' fill="#222" text-anchor="start">2</text>
<path d="M 296.5,117.5 L 346,136" fill="none" stroke="#222" stroke-width="0.9" />
<text x="523.0" y="181.0" font-size="9.5" font-family='"Liberation Sans", sans-serif' fill="#444" text-anchor="start">3</text>
<path d="M 524,182.5 Q 518,186 511,194" fill="none" stroke="#333" stroke-width="0.8" />
<text x="766.5" y="162.5" font-size="9.5" font-family='"Liberation Sans", sans-serif' fill="#444" text-anchor="start">4</text>
<path d="M 768.7,163.5 L 741.2,191.2" fill="none" stroke="#333" stroke-width="0.8" />
<text x="290.0" y="458.0" font-size="9.5" font-family='"Liberation Sans", sans-serif' fill="#333" text-anchor="start">5</text>
<path d="M 244,444.5 Q 270,452 288.5,455" fill="none" stroke="#333" stroke-width="0.8" />
<text x="523.5" y="610.5" font-size="9.5" font-family='"Liberation Sans", sans-serif' fill="#333" text-anchor="start">7</text>
<text x="939.5" y="563.0" font-size="9.5" font-family='"Liberation Serif", serif' fill="#333" text-anchor="start">8</text>
<path d="M 938.3,564 L 914,580" fill="none" stroke="#333" stroke-width="0.8" />
<text x="939.0" y="757.5" font-size="14" font-family='"Liberation Sans", sans-serif' fill="#222" text-anchor="start">9</text>
<path d="M 916,733 Q 928,738 938,747" fill="none" stroke="#333" stroke-width="0.8" />
<text x="962.5" y="814.3" font-size="14" font-family='"Liberation Sans", sans-serif' fill="#222" text-anchor="start">10</text>
<path d="M 923.3,801.7 L 960,810" fill="none" stroke="#333" stroke-width="0.8" />
<text x="963.0" y="885.0" font-size="14" font-family='"Liberation Sans", sans-serif' fill="#222" text-anchor="start">11</text>
<path d="M 930,885 L 962,880" fill="none" stroke="#333" stroke-width="0.8" />
<text x="833.5" y="960.0" font-size="14" font-family='"Liberation Sans", sans-serif' fill="#222" text-anchor="start">12</text>
<text x="834.5" y="1120.5" font-size="14" font-family='"Liberation Sans", sans-serif' fill="#222" text-anchor="start">13</text>
<text x="737.5" y="1235.5" font-size="14" font-family='"Liberation Sans", sans-serif' fill="#222" text-anchor="start">14</text>
<path d="M 703.3,1217.3 L 736.7,1230.7" fill="none" stroke="#222" stroke-width="0.9" />
<text x="684.5" y="1281.0" font-size="14" font-family='"Liberation Sans", sans-serif' fill="#222" text-anchor="start">15</text>
<path d="M 651,1260 L 684,1275.7" fill="none" stroke="#222" stroke-width="0.9" />
<text x="359.5" y="1196.5" font-size="14" font-family='"Liberation Sans", sans-serif' fill="#222" text-anchor="start">16</text>
<text x="235.5" y="873.5" font-size="14" font-family='"Liberation Sans", sans-serif' fill="#222" text-anchor="start">17</text>
</svg>
</body></html>
